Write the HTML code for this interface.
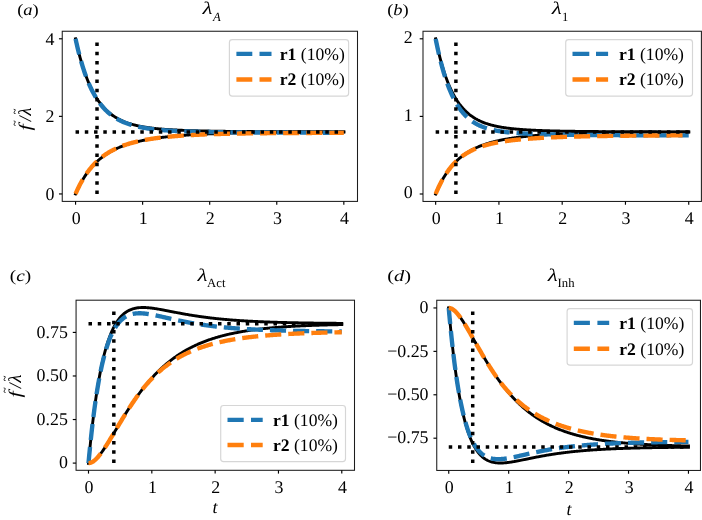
<!DOCTYPE html>
<html><head><meta charset="utf-8"><title>fig</title>
<style>html,body{margin:0;padding:0;background:#fff;}body{width:702px;height:520px;position:relative;overflow:hidden;font-family:"Liberation Serif",serif;}</style>
</head><body>
<svg width="702" height="520" viewBox="0 0 702 520" style="position:absolute;left:0;top:0;will-change:transform;text-rendering:geometricPrecision;font-family:'Liberation Serif',serif;font-size:17.9px">
<rect x="0" y="0" width="702" height="520" fill="#fff"/>
<clipPath id="cpa"><rect x="62.25" y="31.25" width="295.25" height="170.15"/></clipPath>
<g clip-path="url(#cpa)" fill="none">
<path d="M75.55,38.79 L76.22,41.84 L76.89,44.78 L77.56,47.63 L78.23,50.37 L78.90,53.03 L79.57,55.59 L80.24,58.06 L80.92,60.45 L81.59,62.76 L82.26,64.98 L82.93,67.14 L83.60,69.21 L84.27,71.22 L84.94,73.16 L85.61,75.04 L86.28,76.85 L86.95,78.59 L87.62,80.28 L88.29,81.92 L88.96,83.49 L89.63,85.02 L90.31,86.49 L90.98,87.91 L91.65,89.28 L92.32,90.61 L92.99,91.90 L93.66,93.14 L94.33,94.34 L95.00,95.49 L95.67,96.61 L96.34,97.70 L97.01,98.74 L97.68,99.75 L98.35,100.73 L99.02,101.68 L99.70,102.59 L100.37,103.48 L101.04,104.33 L101.71,105.16 L102.38,105.96 L103.05,106.73 L103.72,107.48 L104.39,108.20 L105.06,108.90 L105.73,109.57 L106.40,110.23 L107.07,110.86 L107.74,111.47 L108.41,112.06 L109.08,112.64 L109.76,113.19 L110.43,113.73 L111.10,114.25 L111.77,114.75 L112.44,115.24 L113.11,115.71 L113.78,116.16 L114.45,116.60 L115.12,117.03 L115.79,117.44 L116.46,117.84 L117.13,118.23 L117.80,118.61 L118.47,118.97 L119.15,119.32 L119.82,119.66 L120.49,119.99 L121.16,120.32 L121.83,120.63 L122.50,120.93 L123.17,121.22 L123.84,121.50 L124.51,121.77 L125.18,122.04 L125.85,122.29 L126.52,122.54 L127.19,122.79 L127.86,123.02 L128.54,123.25 L129.21,123.47 L129.88,123.68 L130.55,123.89 L131.22,124.09 L131.89,124.28 L132.56,124.47 L133.23,124.66 L133.90,124.83 L134.57,125.01 L135.24,125.18 L135.91,125.34 L136.58,125.50 L137.25,125.65 L137.93,125.80 L138.60,125.94 L139.27,126.08 L139.94,126.22 L140.61,126.35 L141.28,126.48 L141.95,126.61 L142.62,126.73 L143.29,126.85 L143.96,126.96 L144.63,127.07 L145.30,127.18 L145.97,127.29 L146.64,127.39 L147.31,127.49 L147.99,127.59 L148.66,127.68 L149.33,127.78 L150.00,127.87 L150.67,127.95 L151.34,128.04 L152.01,128.12 L152.68,128.20 L153.35,128.28 L154.02,128.35 L154.69,128.43 L155.36,128.50 L156.03,128.57 L156.70,128.64 L157.38,128.71 L158.05,128.77 L158.72,128.83 L159.39,128.90 L160.06,128.96 L160.73,129.02 L161.40,129.07 L162.07,129.13 L162.74,129.18 L163.41,129.24 L164.08,129.29 L164.75,129.34 L165.42,129.39 L166.09,129.44 L166.77,129.48 L167.44,129.53 L168.11,129.57 L168.78,129.62 L169.45,129.66 L170.12,129.70 L170.79,129.74 L171.46,129.78 L172.13,129.82 L172.80,129.86 L173.47,129.90 L174.14,129.93 L174.81,129.97 L175.48,130.00 L176.15,130.04 L176.83,130.07 L177.50,130.10 L178.17,130.13 L178.84,130.17 L179.51,130.20 L180.18,130.23 L180.85,130.25 L181.52,130.28 L182.19,130.31 L182.86,130.34 L183.53,130.37 L184.20,130.39 L184.87,130.42 L185.54,130.44 L186.22,130.47 L186.89,130.49 L187.56,130.51 L188.23,130.54 L188.90,130.56 L189.57,130.58 L190.24,130.60 L190.91,130.62 L191.58,130.65 L192.25,130.67 L192.92,130.69 L193.59,130.71 L194.26,130.72 L194.93,130.74 L195.61,130.76 L196.28,130.78 L196.95,130.80 L197.62,130.82 L198.29,130.83 L198.96,130.85 L199.63,130.87 L200.30,130.88 L200.97,130.90 L201.64,130.91 L202.31,130.93 L202.98,130.94 L203.65,130.96 L204.32,130.97 L205.00,130.99 L205.67,131.00 L206.34,131.02 L207.01,131.03 L207.68,131.04 L208.35,131.05 L209.02,131.07 L209.69,131.08 L210.36,131.09 L211.03,131.10 L211.70,131.12 L212.37,131.13 L213.04,131.14 L213.71,131.15 L214.38,131.16 L215.06,131.17 L215.73,131.18 L216.40,131.19 L217.07,131.20 L217.74,131.22 L218.41,131.23 L219.08,131.23 L219.75,131.24 L220.42,131.25 L221.09,131.26 L221.76,131.27 L222.43,131.28 L223.10,131.29 L223.77,131.30 L224.45,131.31 L225.12,131.32 L225.79,131.33 L226.46,131.33 L227.13,131.34 L227.80,131.35 L228.47,131.36 L229.14,131.36 L229.81,131.37 L230.48,131.38 L231.15,131.39 L231.82,131.39 L232.49,131.40 L233.16,131.41 L233.84,131.42 L234.51,131.42 L235.18,131.43 L235.85,131.44 L236.52,131.44 L237.19,131.45 L237.86,131.45 L238.53,131.46 L239.20,131.47 L239.87,131.47 L240.54,131.48 L241.21,131.49 L241.88,131.49 L242.55,131.50 L243.22,131.50 L243.90,131.51 L244.57,131.51 L245.24,131.52 L245.91,131.52 L246.58,131.53 L247.25,131.53 L247.92,131.54 L248.59,131.54 L249.26,131.55 L249.93,131.55 L250.60,131.56 L251.27,131.56 L251.94,131.57 L252.61,131.57 L253.29,131.58 L253.96,131.58 L254.63,131.58 L255.30,131.59 L255.97,131.59 L256.64,131.60 L257.31,131.60 L257.98,131.61 L258.65,131.61 L259.32,131.61 L259.99,131.62 L260.66,131.62 L261.33,131.62 L262.00,131.63 L262.68,131.63 L263.35,131.64 L264.02,131.64 L264.69,131.64 L265.36,131.65 L266.03,131.65 L266.70,131.65 L267.37,131.66 L268.04,131.66 L268.71,131.66 L269.38,131.67 L270.05,131.67 L270.72,131.67 L271.39,131.67 L272.07,131.68 L272.74,131.68 L273.41,131.68 L274.08,131.69 L274.75,131.69 L275.42,131.69 L276.09,131.69 L276.76,131.70 L277.43,131.70 L278.10,131.70 L278.77,131.70 L279.44,131.71 L280.11,131.71 L280.78,131.71 L281.45,131.71 L282.13,131.72 L282.80,131.72 L283.47,131.72 L284.14,131.72 L284.81,131.73 L285.48,131.73 L286.15,131.73 L286.82,131.73 L287.49,131.73 L288.16,131.74 L288.83,131.74 L289.50,131.74 L290.17,131.74 L290.84,131.74 L291.52,131.75 L292.19,131.75 L292.86,131.75 L293.53,131.75 L294.20,131.75 L294.87,131.76 L295.54,131.76 L296.21,131.76 L296.88,131.76 L297.55,131.76 L298.22,131.76 L298.89,131.77 L299.56,131.77 L300.23,131.77 L300.91,131.77 L301.58,131.77 L302.25,131.77 L302.92,131.78 L303.59,131.78 L304.26,131.78 L304.93,131.78 L305.60,131.78 L306.27,131.78 L306.94,131.78 L307.61,131.79 L308.28,131.79 L308.95,131.79 L309.62,131.79 L310.29,131.79 L310.97,131.79 L311.64,131.79 L312.31,131.80 L312.98,131.80 L313.65,131.80 L314.32,131.80 L314.99,131.80 L315.66,131.80 L316.33,131.80 L317.00,131.80 L317.67,131.81 L318.34,131.81 L319.01,131.81 L319.68,131.81 L320.36,131.81 L321.03,131.81 L321.70,131.81 L322.37,131.81 L323.04,131.81 L323.71,131.81 L324.38,131.82 L325.05,131.82 L325.72,131.82 L326.39,131.82 L327.06,131.82 L327.73,131.82 L328.40,131.82 L329.07,131.82 L329.75,131.82 L330.42,131.82 L331.09,131.82 L331.76,131.83 L332.43,131.83 L333.10,131.83 L333.77,131.83 L334.44,131.83 L335.11,131.83 L335.78,131.83 L336.45,131.83 L337.12,131.83 L337.79,131.83 L338.46,131.83 L339.14,131.83 L339.81,131.83 L340.48,131.84 L341.15,131.84 L341.82,131.84 L342.49,131.84 L343.16,131.84 L343.83,131.84" stroke="#000" stroke-width="2.9" stroke-linecap="square" stroke-linejoin="round"/>
<path d="M75.55,193.95 L76.22,192.42 L76.89,190.94 L77.56,189.50 L78.23,188.10 L78.90,186.74 L79.57,185.43 L80.24,184.15 L80.92,182.90 L81.59,181.70 L82.26,180.52 L82.93,179.39 L83.60,178.28 L84.27,177.20 L84.94,176.16 L85.61,175.14 L86.28,174.16 L86.95,173.20 L87.62,172.26 L88.29,171.36 L88.96,170.47 L89.63,169.62 L90.31,168.78 L90.98,167.97 L91.65,167.18 L92.32,166.41 L92.99,165.66 L93.66,164.94 L94.33,164.23 L95.00,163.54 L95.67,162.87 L96.34,162.21 L97.01,161.58 L97.68,160.96 L98.35,160.35 L99.02,159.76 L99.70,159.19 L100.37,158.63 L101.04,158.09 L101.71,157.56 L102.38,157.04 L103.05,156.54 L103.72,156.04 L104.39,155.56 L105.06,155.10 L105.73,154.64 L106.40,154.19 L107.07,153.76 L107.74,153.34 L108.41,152.92 L109.08,152.52 L109.76,152.12 L110.43,151.74 L111.10,151.36 L111.77,151.00 L112.44,150.64 L113.11,150.29 L113.78,149.95 L114.45,149.61 L115.12,149.29 L115.79,148.97 L116.46,148.66 L117.13,148.35 L117.80,148.05 L118.47,147.76 L119.15,147.48 L119.82,147.20 L120.49,146.93 L121.16,146.66 L121.83,146.40 L122.50,146.15 L123.17,145.90 L123.84,145.65 L124.51,145.41 L125.18,145.18 L125.85,144.95 L126.52,144.73 L127.19,144.51 L127.86,144.29 L128.54,144.08 L129.21,143.88 L129.88,143.67 L130.55,143.48 L131.22,143.28 L131.89,143.09 L132.56,142.91 L133.23,142.72 L133.90,142.54 L134.57,142.37 L135.24,142.20 L135.91,142.03 L136.58,141.86 L137.25,141.70 L137.93,141.54 L138.60,141.39 L139.27,141.23 L139.94,141.08 L140.61,140.94 L141.28,140.79 L141.95,140.65 L142.62,140.51 L143.29,140.37 L143.96,140.24 L144.63,140.11 L145.30,139.98 L145.97,139.85 L146.64,139.73 L147.31,139.61 L147.99,139.49 L148.66,139.37 L149.33,139.25 L150.00,139.14 L150.67,139.03 L151.34,138.92 L152.01,138.81 L152.68,138.70 L153.35,138.60 L154.02,138.50 L154.69,138.40 L155.36,138.30 L156.03,138.20 L156.70,138.10 L157.38,138.01 L158.05,137.92 L158.72,137.83 L159.39,137.74 L160.06,137.65 L160.73,137.56 L161.40,137.48 L162.07,137.40 L162.74,137.31 L163.41,137.23 L164.08,137.15 L164.75,137.08 L165.42,137.00 L166.09,136.92 L166.77,136.85 L167.44,136.78 L168.11,136.70 L168.78,136.63 L169.45,136.56 L170.12,136.50 L170.79,136.43 L171.46,136.36 L172.13,136.30 L172.80,136.23 L173.47,136.17 L174.14,136.11 L174.81,136.05 L175.48,135.99 L176.15,135.93 L176.83,135.87 L177.50,135.81 L178.17,135.75 L178.84,135.70 L179.51,135.64 L180.18,135.59 L180.85,135.54 L181.52,135.48 L182.19,135.43 L182.86,135.38 L183.53,135.33 L184.20,135.28 L184.87,135.23 L185.54,135.19 L186.22,135.14 L186.89,135.09 L187.56,135.05 L188.23,135.00 L188.90,134.96 L189.57,134.91 L190.24,134.87 L190.91,134.83 L191.58,134.79 L192.25,134.75 L192.92,134.70 L193.59,134.66 L194.26,134.63 L194.93,134.59 L195.61,134.55 L196.28,134.51 L196.95,134.47 L197.62,134.44 L198.29,134.40 L198.96,134.37 L199.63,134.33 L200.30,134.30 L200.97,134.26 L201.64,134.23 L202.31,134.20 L202.98,134.16 L203.65,134.13 L204.32,134.10 L205.00,134.07 L205.67,134.04 L206.34,134.01 L207.01,133.98 L207.68,133.95 L208.35,133.92 L209.02,133.89 L209.69,133.86 L210.36,133.84 L211.03,133.81 L211.70,133.78 L212.37,133.76 L213.04,133.73 L213.71,133.70 L214.38,133.68 L215.06,133.65 L215.73,133.63 L216.40,133.61 L217.07,133.58 L217.74,133.56 L218.41,133.53 L219.08,133.51 L219.75,133.49 L220.42,133.47 L221.09,133.44 L221.76,133.42 L222.43,133.40 L223.10,133.38 L223.77,133.36 L224.45,133.34 L225.12,133.32 L225.79,133.30 L226.46,133.28 L227.13,133.26 L227.80,133.24 L228.47,133.22 L229.14,133.20 L229.81,133.19 L230.48,133.17 L231.15,133.15 L231.82,133.13 L232.49,133.12 L233.16,133.10 L233.84,133.08 L234.51,133.06 L235.18,133.05 L235.85,133.03 L236.52,133.02 L237.19,133.00 L237.86,132.99 L238.53,132.97 L239.20,132.96 L239.87,132.94 L240.54,132.93 L241.21,132.91 L241.88,132.90 L242.55,132.88 L243.22,132.87 L243.90,132.86 L244.57,132.84 L245.24,132.83 L245.91,132.82 L246.58,132.80 L247.25,132.79 L247.92,132.78 L248.59,132.77 L249.26,132.75 L249.93,132.74 L250.60,132.73 L251.27,132.72 L251.94,132.71 L252.61,132.70 L253.29,132.68 L253.96,132.67 L254.63,132.66 L255.30,132.65 L255.97,132.64 L256.64,132.63 L257.31,132.62 L257.98,132.61 L258.65,132.60 L259.32,132.59 L259.99,132.58 L260.66,132.57 L261.33,132.56 L262.00,132.55 L262.68,132.54 L263.35,132.53 L264.02,132.53 L264.69,132.52 L265.36,132.51 L266.03,132.50 L266.70,132.49 L267.37,132.48 L268.04,132.47 L268.71,132.47 L269.38,132.46 L270.05,132.45 L270.72,132.44 L271.39,132.44 L272.07,132.43 L272.74,132.42 L273.41,132.41 L274.08,132.41 L274.75,132.40 L275.42,132.39 L276.09,132.38 L276.76,132.38 L277.43,132.37 L278.10,132.36 L278.77,132.36 L279.44,132.35 L280.11,132.34 L280.78,132.34 L281.45,132.33 L282.13,132.33 L282.80,132.32 L283.47,132.31 L284.14,132.31 L284.81,132.30 L285.48,132.30 L286.15,132.29 L286.82,132.29 L287.49,132.28 L288.16,132.27 L288.83,132.27 L289.50,132.26 L290.17,132.26 L290.84,132.25 L291.52,132.25 L292.19,132.24 L292.86,132.24 L293.53,132.23 L294.20,132.23 L294.87,132.22 L295.54,132.22 L296.21,132.22 L296.88,132.21 L297.55,132.21 L298.22,132.20 L298.89,132.20 L299.56,132.19 L300.23,132.19 L300.91,132.18 L301.58,132.18 L302.25,132.18 L302.92,132.17 L303.59,132.17 L304.26,132.16 L304.93,132.16 L305.60,132.16 L306.27,132.15 L306.94,132.15 L307.61,132.15 L308.28,132.14 L308.95,132.14 L309.62,132.14 L310.29,132.13 L310.97,132.13 L311.64,132.13 L312.31,132.12 L312.98,132.12 L313.65,132.12 L314.32,132.11 L314.99,132.11 L315.66,132.11 L316.33,132.10 L317.00,132.10 L317.67,132.10 L318.34,132.09 L319.01,132.09 L319.68,132.09 L320.36,132.09 L321.03,132.08 L321.70,132.08 L322.37,132.08 L323.04,132.08 L323.71,132.07 L324.38,132.07 L325.05,132.07 L325.72,132.07 L326.39,132.06 L327.06,132.06 L327.73,132.06 L328.40,132.06 L329.07,132.05 L329.75,132.05 L330.42,132.05 L331.09,132.05 L331.76,132.04 L332.43,132.04 L333.10,132.04 L333.77,132.04 L334.44,132.04 L335.11,132.03 L335.78,132.03 L336.45,132.03 L337.12,132.03 L337.79,132.03 L338.46,132.02 L339.14,132.02 L339.81,132.02 L340.48,132.02 L341.15,132.02 L341.82,132.01 L342.49,132.01 L343.16,132.01 L343.83,132.01" stroke="#000" stroke-width="2.9" stroke-linecap="square" stroke-linejoin="round"/>
<path d="M75.55,38.79 L76.22,41.86 L76.89,44.83 L77.56,47.69 L78.23,50.46 L78.90,53.13 L79.57,55.71 L80.24,58.21 L80.92,60.61 L81.59,62.94 L82.26,65.18 L82.93,67.35 L83.60,69.45 L84.27,71.47 L84.94,73.43 L85.61,75.31 L86.28,77.14 L86.95,78.90 L87.62,80.60 L88.29,82.25 L88.96,83.84 L89.63,85.38 L90.31,86.86 L90.98,88.29 L91.65,89.68 L92.32,91.02 L92.99,92.31 L93.66,93.57 L94.33,94.78 L95.00,95.94 L95.67,97.07 L96.34,98.17 L97.01,99.22 L97.68,100.24 L98.35,101.23 L99.02,102.19 L99.70,103.11 L100.37,104.00 L101.04,104.86 L101.71,105.70 L102.38,106.51 L103.05,107.29 L103.72,108.04 L104.39,108.77 L105.06,109.48 L105.73,110.16 L106.40,110.82 L107.07,111.46 L107.74,112.08 L108.41,112.68 L109.08,113.26 L109.76,113.82 L110.43,114.37 L111.10,114.89 L111.77,115.40 L112.44,115.90 L113.11,116.37 L113.78,116.83 L114.45,117.28 L115.12,117.72 L115.79,118.13 L116.46,118.54 L117.13,118.93 L117.80,119.32 L118.47,119.69 L119.15,120.04 L119.82,120.39 L120.49,120.73 L121.16,121.05 L121.83,121.37 L122.50,121.67 L123.17,121.97 L123.84,122.26 L124.51,122.54 L125.18,122.81 L125.85,123.07 L126.52,123.32 L127.19,123.57 L127.86,123.81 L128.54,124.04 L129.21,124.26 L129.88,124.48 L130.55,124.69 L131.22,124.90 L131.89,125.10 L132.56,125.29 L133.23,125.48 L133.90,125.66 L134.57,125.84 L135.24,126.01 L135.91,126.18 L136.58,126.34 L137.25,126.50 L137.93,126.65 L138.60,126.80 L139.27,126.95 L139.94,127.09 L140.61,127.22 L141.28,127.35 L141.95,127.48 L142.62,127.61 L143.29,127.73 L143.96,127.85 L144.63,127.96 L145.30,128.08 L145.97,128.18 L146.64,128.29 L147.31,128.39 L147.99,128.49 L148.66,128.59 L149.33,128.69 L150.00,128.78 L150.67,128.87 L151.34,128.95 L152.01,129.04 L152.68,129.12 L153.35,129.20 L154.02,129.28 L154.69,129.36 L155.36,129.43 L156.03,129.51 L156.70,129.58 L157.38,129.64 L158.05,129.71 L158.72,129.78 L159.39,129.84 L160.06,129.90 L160.73,129.96 L161.40,130.02 L162.07,130.08 L162.74,130.14 L163.41,130.19 L164.08,130.24 L164.75,130.30 L165.42,130.35 L166.09,130.40 L166.77,130.44 L167.44,130.49 L168.11,130.54 L168.78,130.58 L169.45,130.63 L170.12,130.67 L170.79,130.71 L171.46,130.75 L172.13,130.79 L172.80,130.83 L173.47,130.87 L174.14,130.90 L174.81,130.94 L175.48,130.97 L176.15,131.01 L176.83,131.04 L177.50,131.08 L178.17,131.11 L178.84,131.14 L179.51,131.17 L180.18,131.20 L180.85,131.23 L181.52,131.26 L182.19,131.29 L182.86,131.31 L183.53,131.34 L184.20,131.37 L184.87,131.39 L185.54,131.42 L186.22,131.44 L186.89,131.47 L187.56,131.49 L188.23,131.51 L188.90,131.53 L189.57,131.56 L190.24,131.58 L190.91,131.60 L191.58,131.62 L192.25,131.64 L192.92,131.66 L193.59,131.68 L194.26,131.70 L194.93,131.72 L195.61,131.73 L196.28,131.75 L196.95,131.77 L197.62,131.79 L198.29,131.80 L198.96,131.82 L199.63,131.84 L200.30,131.85 L200.97,131.87 L201.64,131.88 L202.31,131.90 L202.98,131.91 L203.65,131.93 L204.32,131.94 L205.00,131.95 L205.67,131.97 L206.34,131.98 L207.01,131.99 L207.68,132.00 L208.35,132.02 L209.02,132.03 L209.69,132.04 L210.36,132.05 L211.03,132.06 L211.70,132.08 L212.37,132.09 L213.04,132.10 L213.71,132.11 L214.38,132.12 L215.06,132.13 L215.73,132.14 L216.40,132.15 L217.07,132.16 L217.74,132.17 L218.41,132.18 L219.08,132.19 L219.75,132.20 L220.42,132.20 L221.09,132.21 L221.76,132.22 L222.43,132.23 L223.10,132.24 L223.77,132.25 L224.45,132.25 L225.12,132.26 L225.79,132.27 L226.46,132.28 L227.13,132.29 L227.80,132.29 L228.47,132.30 L229.14,132.31 L229.81,132.31 L230.48,132.32 L231.15,132.33 L231.82,132.33 L232.49,132.34 L233.16,132.35 L233.84,132.35 L234.51,132.36 L235.18,132.37 L235.85,132.37 L236.52,132.38 L237.19,132.38 L237.86,132.39 L238.53,132.39 L239.20,132.40 L239.87,132.41 L240.54,132.41 L241.21,132.42 L241.88,132.42 L242.55,132.43 L243.22,132.43 L243.90,132.44 L244.57,132.44 L245.24,132.45 L245.91,132.45 L246.58,132.46 L247.25,132.46 L247.92,132.46 L248.59,132.47 L249.26,132.47 L249.93,132.48 L250.60,132.48 L251.27,132.49 L251.94,132.49 L252.61,132.49 L253.29,132.50 L253.96,132.50 L254.63,132.51 L255.30,132.51 L255.97,132.51 L256.64,132.52 L257.31,132.52 L257.98,132.52 L258.65,132.53 L259.32,132.53 L259.99,132.53 L260.66,132.54 L261.33,132.54 L262.00,132.54 L262.68,132.55 L263.35,132.55 L264.02,132.55 L264.69,132.56 L265.36,132.56 L266.03,132.56 L266.70,132.57 L267.37,132.57 L268.04,132.57 L268.71,132.58 L269.38,132.58 L270.05,132.58 L270.72,132.58 L271.39,132.59 L272.07,132.59 L272.74,132.59 L273.41,132.59 L274.08,132.60 L274.75,132.60 L275.42,132.60 L276.09,132.60 L276.76,132.61 L277.43,132.61 L278.10,132.61 L278.77,132.61 L279.44,132.62 L280.11,132.62 L280.78,132.62 L281.45,132.62 L282.13,132.62 L282.80,132.63 L283.47,132.63 L284.14,132.63 L284.81,132.63 L285.48,132.63 L286.15,132.64 L286.82,132.64 L287.49,132.64 L288.16,132.64 L288.83,132.64 L289.50,132.65 L290.17,132.65 L290.84,132.65 L291.52,132.65 L292.19,132.65 L292.86,132.65 L293.53,132.66 L294.20,132.66 L294.87,132.66 L295.54,132.66 L296.21,132.66 L296.88,132.66 L297.55,132.67 L298.22,132.67 L298.89,132.67 L299.56,132.67 L300.23,132.67 L300.91,132.67 L301.58,132.67 L302.25,132.68 L302.92,132.68 L303.59,132.68 L304.26,132.68 L304.93,132.68 L305.60,132.68 L306.27,132.68 L306.94,132.69 L307.61,132.69 L308.28,132.69 L308.95,132.69 L309.62,132.69 L310.29,132.69 L310.97,132.69 L311.64,132.69 L312.31,132.69 L312.98,132.70 L313.65,132.70 L314.32,132.70 L314.99,132.70 L315.66,132.70 L316.33,132.70 L317.00,132.70 L317.67,132.70 L318.34,132.70 L319.01,132.71 L319.68,132.71 L320.36,132.71 L321.03,132.71 L321.70,132.71 L322.37,132.71 L323.04,132.71 L323.71,132.71 L324.38,132.71 L325.05,132.71 L325.72,132.71 L326.39,132.72 L327.06,132.72 L327.73,132.72 L328.40,132.72 L329.07,132.72 L329.75,132.72 L330.42,132.72 L331.09,132.72 L331.76,132.72 L332.43,132.72 L333.10,132.72 L333.77,132.72 L334.44,132.72 L335.11,132.73 L335.78,132.73 L336.45,132.73 L337.12,132.73 L337.79,132.73 L338.46,132.73 L339.14,132.73 L339.81,132.73 L340.48,132.73 L341.15,132.73 L341.82,132.73 L342.49,132.73 L343.16,132.73 L343.83,132.73" stroke="#1f77b4" stroke-width="4.36" stroke-linejoin="round" stroke-dasharray="16.13,6.98"/>
<path d="M75.55,193.95 L76.22,192.41 L76.89,190.91 L77.56,189.46 L78.23,188.05 L78.90,186.68 L79.57,185.35 L80.24,184.06 L80.92,182.81 L81.59,181.59 L82.26,180.41 L82.93,179.26 L83.60,178.14 L84.27,177.06 L84.94,176.01 L85.61,174.98 L86.28,173.99 L86.95,173.02 L87.62,172.08 L88.29,171.17 L88.96,170.28 L89.63,169.42 L90.31,168.58 L90.98,167.76 L91.65,166.96 L92.32,166.19 L92.99,165.44 L93.66,164.70 L94.33,163.99 L95.00,163.30 L95.67,162.62 L96.34,161.96 L97.01,161.32 L97.68,160.70 L98.35,160.09 L99.02,159.50 L99.70,158.93 L100.37,158.37 L101.04,157.82 L101.71,157.29 L102.38,156.77 L103.05,156.26 L103.72,155.77 L104.39,155.29 L105.06,154.82 L105.73,154.36 L106.40,153.92 L107.07,153.48 L107.74,153.06 L108.41,152.64 L109.08,152.24 L109.76,151.85 L110.43,151.46 L111.10,151.09 L111.77,150.72 L112.44,150.36 L113.11,150.02 L113.78,149.67 L114.45,149.34 L115.12,149.02 L115.79,148.70 L116.46,148.39 L117.13,148.09 L117.80,147.79 L118.47,147.50 L119.15,147.22 L119.82,146.94 L120.49,146.67 L121.16,146.41 L121.83,146.15 L122.50,145.90 L123.17,145.65 L123.84,145.41 L124.51,145.18 L125.18,144.94 L125.85,144.72 L126.52,144.50 L127.19,144.28 L127.86,144.07 L128.54,143.86 L129.21,143.66 L129.88,143.46 L130.55,143.27 L131.22,143.08 L131.89,142.89 L132.56,142.71 L133.23,142.53 L133.90,142.36 L134.57,142.19 L135.24,142.02 L135.91,141.85 L136.58,141.69 L137.25,141.54 L137.93,141.38 L138.60,141.23 L139.27,141.08 L139.94,140.94 L140.61,140.79 L141.28,140.65 L141.95,140.52 L142.62,140.38 L143.29,140.25 L143.96,140.12 L144.63,139.99 L145.30,139.87 L145.97,139.75 L146.64,139.63 L147.31,139.51 L147.99,139.40 L148.66,139.28 L149.33,139.17 L150.00,139.07 L150.67,138.96 L151.34,138.85 L152.01,138.75 L152.68,138.65 L153.35,138.55 L154.02,138.46 L154.69,138.36 L155.36,138.27 L156.03,138.18 L156.70,138.09 L157.38,138.00 L158.05,137.91 L158.72,137.83 L159.39,137.74 L160.06,137.66 L160.73,137.58 L161.40,137.50 L162.07,137.42 L162.74,137.35 L163.41,137.27 L164.08,137.20 L164.75,137.13 L165.42,137.05 L166.09,136.98 L166.77,136.92 L167.44,136.85 L168.11,136.78 L168.78,136.72 L169.45,136.65 L170.12,136.59 L170.79,136.53 L171.46,136.47 L172.13,136.41 L172.80,136.35 L173.47,136.29 L174.14,136.24 L174.81,136.18 L175.48,136.13 L176.15,136.07 L176.83,136.02 L177.50,135.97 L178.17,135.92 L178.84,135.87 L179.51,135.82 L180.18,135.77 L180.85,135.72 L181.52,135.67 L182.19,135.63 L182.86,135.58 L183.53,135.54 L184.20,135.49 L184.87,135.45 L185.54,135.41 L186.22,135.37 L186.89,135.33 L187.56,135.29 L188.23,135.25 L188.90,135.21 L189.57,135.17 L190.24,135.13 L190.91,135.09 L191.58,135.06 L192.25,135.02 L192.92,134.99 L193.59,134.95 L194.26,134.92 L194.93,134.88 L195.61,134.85 L196.28,134.82 L196.95,134.79 L197.62,134.76 L198.29,134.73 L198.96,134.70 L199.63,134.67 L200.30,134.64 L200.97,134.61 L201.64,134.58 L202.31,134.55 L202.98,134.52 L203.65,134.50 L204.32,134.47 L205.00,134.44 L205.67,134.42 L206.34,134.39 L207.01,134.37 L207.68,134.34 L208.35,134.32 L209.02,134.30 L209.69,134.27 L210.36,134.25 L211.03,134.23 L211.70,134.20 L212.37,134.18 L213.04,134.16 L213.71,134.14 L214.38,134.12 L215.06,134.10 L215.73,134.08 L216.40,134.06 L217.07,134.04 L217.74,134.02 L218.41,134.00 L219.08,133.98 L219.75,133.96 L220.42,133.95 L221.09,133.93 L221.76,133.91 L222.43,133.89 L223.10,133.88 L223.77,133.86 L224.45,133.84 L225.12,133.83 L225.79,133.81 L226.46,133.80 L227.13,133.78 L227.80,133.77 L228.47,133.75 L229.14,133.74 L229.81,133.72 L230.48,133.71 L231.15,133.70 L231.82,133.68 L232.49,133.67 L233.16,133.66 L233.84,133.64 L234.51,133.63 L235.18,133.62 L235.85,133.60 L236.52,133.59 L237.19,133.58 L237.86,133.57 L238.53,133.56 L239.20,133.54 L239.87,133.53 L240.54,133.52 L241.21,133.51 L241.88,133.50 L242.55,133.49 L243.22,133.48 L243.90,133.47 L244.57,133.46 L245.24,133.45 L245.91,133.44 L246.58,133.43 L247.25,133.42 L247.92,133.41 L248.59,133.40 L249.26,133.39 L249.93,133.38 L250.60,133.37 L251.27,133.37 L251.94,133.36 L252.61,133.35 L253.29,133.34 L253.96,133.33 L254.63,133.33 L255.30,133.32 L255.97,133.31 L256.64,133.30 L257.31,133.29 L257.98,133.29 L258.65,133.28 L259.32,133.27 L259.99,133.27 L260.66,133.26 L261.33,133.25 L262.00,133.24 L262.68,133.24 L263.35,133.23 L264.02,133.23 L264.69,133.22 L265.36,133.21 L266.03,133.21 L266.70,133.20 L267.37,133.19 L268.04,133.19 L268.71,133.18 L269.38,133.18 L270.05,133.17 L270.72,133.17 L271.39,133.16 L272.07,133.16 L272.74,133.15 L273.41,133.14 L274.08,133.14 L274.75,133.13 L275.42,133.13 L276.09,133.12 L276.76,133.12 L277.43,133.12 L278.10,133.11 L278.77,133.11 L279.44,133.10 L280.11,133.10 L280.78,133.09 L281.45,133.09 L282.13,133.08 L282.80,133.08 L283.47,133.08 L284.14,133.07 L284.81,133.07 L285.48,133.06 L286.15,133.06 L286.82,133.06 L287.49,133.05 L288.16,133.05 L288.83,133.04 L289.50,133.04 L290.17,133.04 L290.84,133.03 L291.52,133.03 L292.19,133.03 L292.86,133.02 L293.53,133.02 L294.20,133.02 L294.87,133.01 L295.54,133.01 L296.21,133.01 L296.88,133.00 L297.55,133.00 L298.22,133.00 L298.89,133.00 L299.56,132.99 L300.23,132.99 L300.91,132.99 L301.58,132.98 L302.25,132.98 L302.92,132.98 L303.59,132.98 L304.26,132.97 L304.93,132.97 L305.60,132.97 L306.27,132.97 L306.94,132.96 L307.61,132.96 L308.28,132.96 L308.95,132.96 L309.62,132.95 L310.29,132.95 L310.97,132.95 L311.64,132.95 L312.31,132.94 L312.98,132.94 L313.65,132.94 L314.32,132.94 L314.99,132.94 L315.66,132.93 L316.33,132.93 L317.00,132.93 L317.67,132.93 L318.34,132.93 L319.01,132.92 L319.68,132.92 L320.36,132.92 L321.03,132.92 L321.70,132.92 L322.37,132.91 L323.04,132.91 L323.71,132.91 L324.38,132.91 L325.05,132.91 L325.72,132.91 L326.39,132.90 L327.06,132.90 L327.73,132.90 L328.40,132.90 L329.07,132.90 L329.75,132.90 L330.42,132.89 L331.09,132.89 L331.76,132.89 L332.43,132.89 L333.10,132.89 L333.77,132.89 L334.44,132.89 L335.11,132.88 L335.78,132.88 L336.45,132.88 L337.12,132.88 L337.79,132.88 L338.46,132.88 L339.14,132.88 L339.81,132.87 L340.48,132.87 L341.15,132.87 L341.82,132.87 L342.49,132.87 L343.16,132.87 L343.83,132.87" stroke="#ff7f0e" stroke-width="4.36" stroke-linejoin="round" stroke-dasharray="16.13,6.98"/>
<path d="M75.55,131.89 L343.83,131.89" stroke="#000" stroke-width="3.49" stroke-dasharray="3.49,5.76"/>
<path d="M97.01,193.95 L97.01,38.79" stroke="#000" stroke-width="3.49" stroke-dasharray="3.49,5.76"/>
</g>
<rect x="62.25" y="31.25" width="295.25" height="170.15" fill="none" stroke="#1c1c1c" stroke-width="1.05"/>
<path d="M75.55,201.4 v3.3" stroke="#000" stroke-width="1.16"/>
<text x="76.15" y="223.70" text-anchor="middle">0</text>
<path d="M142.62,201.4 v3.3" stroke="#000" stroke-width="1.16"/>
<text x="143.22" y="223.70" text-anchor="middle">1</text>
<path d="M209.69,201.4 v3.3" stroke="#000" stroke-width="1.16"/>
<text x="210.29" y="223.70" text-anchor="middle">2</text>
<path d="M276.76,201.4 v3.3" stroke="#000" stroke-width="1.16"/>
<text x="277.36" y="223.70" text-anchor="middle">3</text>
<path d="M343.83,201.4 v3.3" stroke="#000" stroke-width="1.16"/>
<text x="344.43" y="223.70" text-anchor="middle">4</text>
<path d="M62.25,193.95 h-3.3" stroke="#000" stroke-width="1.16"/>
<text x="54.45" y="199.95" text-anchor="end">0</text>
<path d="M62.25,116.37 h-3.3" stroke="#000" stroke-width="1.16"/>
<text x="54.45" y="122.37" text-anchor="end">2</text>
<path d="M62.25,38.79 h-3.3" stroke="#000" stroke-width="1.16"/>
<text x="54.45" y="44.79" text-anchor="end">4</text>
<rect x="229.4" y="39.6" width="119.20000000000002" height="56.6" rx="2.9" ry="2.9" fill="#fff" fill-opacity="0.8" stroke="#ccc" stroke-opacity="0.8" stroke-width="1.16"/>
<path d="M236.4,53.9 H252.3 M259.5,53.9 H271.5" stroke="#1f77b4" stroke-width="4.36"/>
<text x="279.8" y="59.70" font-size="17.6"><tspan font-weight="bold">r1</tspan> (10%)</text>
<path d="M236.4,79.5 H252.3 M259.5,79.5 H271.5" stroke="#ff7f0e" stroke-width="4.36"/>
<text x="279.8" y="85.30" font-size="17.6"><tspan font-weight="bold">r2</tspan> (10%)</text>
<clipPath id="cpb"><rect x="423.0" y="31.25" width="278.4" height="170.2"/></clipPath>
<g clip-path="url(#cpb)" fill="none">
<path d="M435.65,38.80 L436.28,41.85 L436.92,44.80 L437.55,47.64 L438.18,50.39 L438.81,53.04 L439.45,55.60 L440.08,58.07 L440.71,60.46 L441.34,62.77 L441.98,65.00 L442.61,67.15 L443.24,69.23 L443.88,71.24 L444.51,73.18 L445.14,75.05 L445.77,76.87 L446.41,78.61 L447.04,80.30 L447.67,81.94 L448.30,83.51 L448.94,85.04 L449.57,86.51 L450.20,87.93 L450.83,89.31 L451.47,90.64 L452.10,91.92 L452.73,93.16 L453.37,94.36 L454.00,95.52 L454.63,96.64 L455.26,97.72 L455.90,98.77 L456.53,99.78 L457.16,100.76 L457.79,101.70 L458.43,102.62 L459.06,103.50 L459.69,104.36 L460.33,105.18 L460.96,105.98 L461.59,106.76 L462.22,107.50 L462.86,108.23 L463.49,108.93 L464.12,109.60 L464.75,110.26 L465.39,110.89 L466.02,111.50 L466.65,112.09 L467.28,112.67 L467.92,113.22 L468.55,113.76 L469.18,114.28 L469.82,114.78 L470.45,115.27 L471.08,115.74 L471.71,116.19 L472.35,116.63 L472.98,117.06 L473.61,117.47 L474.24,117.87 L474.88,118.26 L475.51,118.64 L476.14,119.00 L476.78,119.35 L477.41,119.70 L478.04,120.03 L478.67,120.35 L479.31,120.66 L479.94,120.96 L480.57,121.25 L481.20,121.53 L481.84,121.80 L482.47,122.07 L483.10,122.33 L483.74,122.58 L484.37,122.82 L485.00,123.05 L485.63,123.28 L486.27,123.50 L486.90,123.71 L487.53,123.92 L488.16,124.12 L488.80,124.32 L489.43,124.50 L490.06,124.69 L490.69,124.87 L491.33,125.04 L491.96,125.21 L492.59,125.37 L493.23,125.53 L493.86,125.68 L494.49,125.83 L495.12,125.98 L495.76,126.12 L496.39,126.25 L497.02,126.39 L497.65,126.52 L498.29,126.64 L498.92,126.76 L499.55,126.88 L500.19,127.00 L500.82,127.11 L501.45,127.22 L502.08,127.32 L502.72,127.42 L503.35,127.52 L503.98,127.62 L504.61,127.72 L505.25,127.81 L505.88,127.90 L506.51,127.99 L507.15,128.07 L507.78,128.15 L508.41,128.23 L509.04,128.31 L509.68,128.39 L510.31,128.46 L510.94,128.53 L511.57,128.60 L512.21,128.67 L512.84,128.74 L513.47,128.80 L514.10,128.87 L514.74,128.93 L515.37,128.99 L516.00,129.05 L516.64,129.11 L517.27,129.16 L517.90,129.22 L518.53,129.27 L519.17,129.32 L519.80,129.37 L520.43,129.42 L521.06,129.47 L521.70,129.52 L522.33,129.56 L522.96,129.61 L523.60,129.65 L524.23,129.69 L524.86,129.74 L525.49,129.78 L526.13,129.82 L526.76,129.86 L527.39,129.89 L528.02,129.93 L528.66,129.97 L529.29,130.00 L529.92,130.04 L530.55,130.07 L531.19,130.10 L531.82,130.14 L532.45,130.17 L533.09,130.20 L533.72,130.23 L534.35,130.26 L534.98,130.29 L535.62,130.32 L536.25,130.34 L536.88,130.37 L537.51,130.40 L538.15,130.42 L538.78,130.45 L539.41,130.48 L540.05,130.50 L540.68,130.52 L541.31,130.55 L541.94,130.57 L542.58,130.59 L543.21,130.62 L543.84,130.64 L544.47,130.66 L545.11,130.68 L545.74,130.70 L546.37,130.72 L547.01,130.74 L547.64,130.76 L548.27,130.78 L548.90,130.80 L549.54,130.81 L550.17,130.83 L550.80,130.85 L551.43,130.87 L552.07,130.88 L552.70,130.90 L553.33,130.92 L553.96,130.93 L554.60,130.95 L555.23,130.96 L555.86,130.98 L556.50,130.99 L557.13,131.01 L557.76,131.02 L558.39,131.04 L559.03,131.05 L559.66,131.06 L560.29,131.08 L560.92,131.09 L561.56,131.10 L562.19,131.11 L562.82,131.13 L563.46,131.14 L564.09,131.15 L564.72,131.16 L565.35,131.17 L565.99,131.18 L566.62,131.20 L567.25,131.21 L567.88,131.22 L568.52,131.23 L569.15,131.24 L569.78,131.25 L570.42,131.26 L571.05,131.27 L571.68,131.28 L572.31,131.29 L572.95,131.30 L573.58,131.31 L574.21,131.32 L574.84,131.32 L575.48,131.33 L576.11,131.34 L576.74,131.35 L577.37,131.36 L578.01,131.37 L578.64,131.38 L579.27,131.38 L579.91,131.39 L580.54,131.40 L581.17,131.41 L581.80,131.41 L582.44,131.42 L583.07,131.43 L583.70,131.44 L584.33,131.44 L584.97,131.45 L585.60,131.46 L586.23,131.46 L586.87,131.47 L587.50,131.48 L588.13,131.48 L588.76,131.49 L589.40,131.50 L590.03,131.50 L590.66,131.51 L591.29,131.51 L591.93,131.52 L592.56,131.52 L593.19,131.53 L593.83,131.54 L594.46,131.54 L595.09,131.55 L595.72,131.55 L596.36,131.56 L596.99,131.56 L597.62,131.57 L598.25,131.57 L598.89,131.58 L599.52,131.58 L600.15,131.59 L600.78,131.59 L601.42,131.60 L602.05,131.60 L602.68,131.61 L603.32,131.61 L603.95,131.61 L604.58,131.62 L605.21,131.62 L605.85,131.63 L606.48,131.63 L607.11,131.64 L607.74,131.64 L608.38,131.64 L609.01,131.65 L609.64,131.65 L610.28,131.65 L610.91,131.66 L611.54,131.66 L612.17,131.67 L612.81,131.67 L613.44,131.67 L614.07,131.68 L614.70,131.68 L615.34,131.68 L615.97,131.69 L616.60,131.69 L617.23,131.69 L617.87,131.70 L618.50,131.70 L619.13,131.70 L619.77,131.71 L620.40,131.71 L621.03,131.71 L621.66,131.71 L622.30,131.72 L622.93,131.72 L623.56,131.72 L624.19,131.73 L624.83,131.73 L625.46,131.73 L626.09,131.73 L626.73,131.74 L627.36,131.74 L627.99,131.74 L628.62,131.74 L629.26,131.75 L629.89,131.75 L630.52,131.75 L631.15,131.75 L631.79,131.76 L632.42,131.76 L633.05,131.76 L633.69,131.76 L634.32,131.76 L634.95,131.77 L635.58,131.77 L636.22,131.77 L636.85,131.77 L637.48,131.77 L638.11,131.78 L638.75,131.78 L639.38,131.78 L640.01,131.78 L640.64,131.78 L641.28,131.79 L641.91,131.79 L642.54,131.79 L643.18,131.79 L643.81,131.79 L644.44,131.80 L645.07,131.80 L645.71,131.80 L646.34,131.80 L646.97,131.80 L647.60,131.80 L648.24,131.81 L648.87,131.81 L649.50,131.81 L650.14,131.81 L650.77,131.81 L651.40,131.81 L652.03,131.81 L652.67,131.82 L653.30,131.82 L653.93,131.82 L654.56,131.82 L655.20,131.82 L655.83,131.82 L656.46,131.82 L657.10,131.83 L657.73,131.83 L658.36,131.83 L658.99,131.83 L659.63,131.83 L660.26,131.83 L660.89,131.83 L661.52,131.83 L662.16,131.84 L662.79,131.84 L663.42,131.84 L664.05,131.84 L664.69,131.84 L665.32,131.84 L665.95,131.84 L666.59,131.84 L667.22,131.84 L667.85,131.85 L668.48,131.85 L669.12,131.85 L669.75,131.85 L670.38,131.85 L671.01,131.85 L671.65,131.85 L672.28,131.85 L672.91,131.85 L673.55,131.85 L674.18,131.86 L674.81,131.86 L675.44,131.86 L676.08,131.86 L676.71,131.86 L677.34,131.86 L677.97,131.86 L678.61,131.86 L679.24,131.86 L679.87,131.86 L680.50,131.86 L681.14,131.86 L681.77,131.87 L682.40,131.87 L683.04,131.87 L683.67,131.87 L684.30,131.87 L684.93,131.87 L685.57,131.87 L686.20,131.87 L686.83,131.87 L687.46,131.87 L688.10,131.87 L688.73,131.87" stroke="#000" stroke-width="2.9" stroke-linecap="square" stroke-linejoin="round"/>
<path d="M435.65,194.00 L436.28,192.47 L436.92,190.99 L437.55,189.55 L438.18,188.15 L438.81,186.79 L439.45,185.47 L440.08,184.19 L440.71,182.95 L441.34,181.74 L441.98,180.57 L442.61,179.43 L443.24,178.32 L443.88,177.25 L444.51,176.20 L445.14,175.19 L445.77,174.20 L446.41,173.24 L447.04,172.31 L447.67,171.40 L448.30,170.52 L448.94,169.66 L449.57,168.83 L450.20,168.01 L450.83,167.22 L451.47,166.46 L452.10,165.71 L452.73,164.98 L453.37,164.27 L454.00,163.58 L454.63,162.91 L455.26,162.26 L455.90,161.62 L456.53,161.00 L457.16,160.39 L457.79,159.81 L458.43,159.23 L459.06,158.67 L459.69,158.13 L460.33,157.60 L460.96,157.08 L461.59,156.58 L462.22,156.08 L462.86,155.60 L463.49,155.14 L464.12,154.68 L464.75,154.23 L465.39,153.80 L466.02,153.38 L466.65,152.96 L467.28,152.56 L467.92,152.16 L468.55,151.78 L469.18,151.40 L469.82,151.04 L470.45,150.68 L471.08,150.33 L471.71,149.99 L472.35,149.65 L472.98,149.33 L473.61,149.01 L474.24,148.70 L474.88,148.39 L475.51,148.09 L476.14,147.80 L476.78,147.52 L477.41,147.24 L478.04,146.97 L478.67,146.70 L479.31,146.44 L479.94,146.18 L480.57,145.93 L481.20,145.69 L481.84,145.45 L482.47,145.22 L483.10,144.99 L483.74,144.76 L484.37,144.54 L485.00,144.33 L485.63,144.12 L486.27,143.91 L486.90,143.71 L487.53,143.51 L488.16,143.32 L488.80,143.13 L489.43,142.94 L490.06,142.76 L490.69,142.58 L491.33,142.41 L491.96,142.23 L492.59,142.06 L493.23,141.90 L493.86,141.74 L494.49,141.58 L495.12,141.42 L495.76,141.27 L496.39,141.12 L497.02,140.97 L497.65,140.83 L498.29,140.69 L498.92,140.55 L499.55,140.41 L500.19,140.28 L500.82,140.14 L501.45,140.02 L502.08,139.89 L502.72,139.76 L503.35,139.64 L503.98,139.52 L504.61,139.40 L505.25,139.29 L505.88,139.17 L506.51,139.06 L507.15,138.95 L507.78,138.84 L508.41,138.74 L509.04,138.63 L509.68,138.53 L510.31,138.43 L510.94,138.33 L511.57,138.24 L512.21,138.14 L512.84,138.05 L513.47,137.95 L514.10,137.86 L514.74,137.77 L515.37,137.69 L516.00,137.60 L516.64,137.52 L517.27,137.43 L517.90,137.35 L518.53,137.27 L519.17,137.19 L519.80,137.11 L520.43,137.03 L521.06,136.96 L521.70,136.89 L522.33,136.81 L522.96,136.74 L523.60,136.67 L524.23,136.60 L524.86,136.53 L525.49,136.46 L526.13,136.40 L526.76,136.33 L527.39,136.27 L528.02,136.20 L528.66,136.14 L529.29,136.08 L529.92,136.02 L530.55,135.96 L531.19,135.90 L531.82,135.85 L532.45,135.79 L533.09,135.73 L533.72,135.68 L534.35,135.62 L534.98,135.57 L535.62,135.52 L536.25,135.47 L536.88,135.42 L537.51,135.37 L538.15,135.32 L538.78,135.27 L539.41,135.22 L540.05,135.17 L540.68,135.13 L541.31,135.08 L541.94,135.04 L542.58,134.99 L543.21,134.95 L543.84,134.91 L544.47,134.86 L545.11,134.82 L545.74,134.78 L546.37,134.74 L547.01,134.70 L547.64,134.66 L548.27,134.62 L548.90,134.58 L549.54,134.55 L550.17,134.51 L550.80,134.47 L551.43,134.44 L552.07,134.40 L552.70,134.37 L553.33,134.33 L553.96,134.30 L554.60,134.26 L555.23,134.23 L555.86,134.20 L556.50,134.17 L557.13,134.14 L557.76,134.10 L558.39,134.07 L559.03,134.04 L559.66,134.01 L560.29,133.98 L560.92,133.96 L561.56,133.93 L562.19,133.90 L562.82,133.87 L563.46,133.84 L564.09,133.82 L564.72,133.79 L565.35,133.76 L565.99,133.74 L566.62,133.71 L567.25,133.69 L567.88,133.66 L568.52,133.64 L569.15,133.62 L569.78,133.59 L570.42,133.57 L571.05,133.55 L571.68,133.52 L572.31,133.50 L572.95,133.48 L573.58,133.46 L574.21,133.44 L574.84,133.42 L575.48,133.39 L576.11,133.37 L576.74,133.35 L577.37,133.33 L578.01,133.31 L578.64,133.29 L579.27,133.28 L579.91,133.26 L580.54,133.24 L581.17,133.22 L581.80,133.20 L582.44,133.18 L583.07,133.17 L583.70,133.15 L584.33,133.13 L584.97,133.12 L585.60,133.10 L586.23,133.08 L586.87,133.07 L587.50,133.05 L588.13,133.04 L588.76,133.02 L589.40,133.00 L590.03,132.99 L590.66,132.98 L591.29,132.96 L591.93,132.95 L592.56,132.93 L593.19,132.92 L593.83,132.90 L594.46,132.89 L595.09,132.88 L595.72,132.86 L596.36,132.85 L596.99,132.84 L597.62,132.83 L598.25,132.81 L598.89,132.80 L599.52,132.79 L600.15,132.78 L600.78,132.76 L601.42,132.75 L602.05,132.74 L602.68,132.73 L603.32,132.72 L603.95,132.71 L604.58,132.70 L605.21,132.69 L605.85,132.68 L606.48,132.67 L607.11,132.66 L607.74,132.65 L608.38,132.64 L609.01,132.63 L609.64,132.62 L610.28,132.61 L610.91,132.60 L611.54,132.59 L612.17,132.58 L612.81,132.57 L613.44,132.56 L614.07,132.55 L614.70,132.54 L615.34,132.53 L615.97,132.53 L616.60,132.52 L617.23,132.51 L617.87,132.50 L618.50,132.49 L619.13,132.48 L619.77,132.48 L620.40,132.47 L621.03,132.46 L621.66,132.45 L622.30,132.45 L622.93,132.44 L623.56,132.43 L624.19,132.43 L624.83,132.42 L625.46,132.41 L626.09,132.41 L626.73,132.40 L627.36,132.39 L627.99,132.39 L628.62,132.38 L629.26,132.37 L629.89,132.37 L630.52,132.36 L631.15,132.35 L631.79,132.35 L632.42,132.34 L633.05,132.34 L633.69,132.33 L634.32,132.33 L634.95,132.32 L635.58,132.31 L636.22,132.31 L636.85,132.30 L637.48,132.30 L638.11,132.29 L638.75,132.29 L639.38,132.28 L640.01,132.28 L640.64,132.27 L641.28,132.27 L641.91,132.26 L642.54,132.26 L643.18,132.25 L643.81,132.25 L644.44,132.24 L645.07,132.24 L645.71,132.24 L646.34,132.23 L646.97,132.23 L647.60,132.22 L648.24,132.22 L648.87,132.21 L649.50,132.21 L650.14,132.21 L650.77,132.20 L651.40,132.20 L652.03,132.20 L652.67,132.19 L653.30,132.19 L653.93,132.18 L654.56,132.18 L655.20,132.18 L655.83,132.17 L656.46,132.17 L657.10,132.17 L657.73,132.16 L658.36,132.16 L658.99,132.16 L659.63,132.15 L660.26,132.15 L660.89,132.15 L661.52,132.14 L662.16,132.14 L662.79,132.14 L663.42,132.13 L664.05,132.13 L664.69,132.13 L665.32,132.13 L665.95,132.12 L666.59,132.12 L667.22,132.12 L667.85,132.11 L668.48,132.11 L669.12,132.11 L669.75,132.11 L670.38,132.10 L671.01,132.10 L671.65,132.10 L672.28,132.10 L672.91,132.09 L673.55,132.09 L674.18,132.09 L674.81,132.09 L675.44,132.08 L676.08,132.08 L676.71,132.08 L677.34,132.08 L677.97,132.08 L678.61,132.07 L679.24,132.07 L679.87,132.07 L680.50,132.07 L681.14,132.07 L681.77,132.06 L682.40,132.06 L683.04,132.06 L683.67,132.06 L684.30,132.06 L684.93,132.05 L685.57,132.05 L686.20,132.05 L686.83,132.05 L687.46,132.05 L688.10,132.05 L688.73,132.04" stroke="#000" stroke-width="2.9" stroke-linecap="square" stroke-linejoin="round"/>
<path d="M435.65,38.80 L436.28,41.97 L436.92,45.03 L437.55,48.01 L438.18,50.89 L438.81,53.68 L439.45,56.38 L440.08,58.99 L440.71,61.52 L441.34,63.98 L441.98,66.35 L442.61,68.64 L443.24,70.87 L443.88,73.02 L444.51,75.10 L445.14,77.11 L445.77,79.05 L446.41,80.93 L447.04,82.75 L447.67,84.51 L448.30,86.21 L448.94,87.85 L449.57,89.44 L450.20,90.98 L450.83,92.46 L451.47,93.89 L452.10,95.28 L452.73,96.61 L453.37,97.91 L454.00,99.15 L454.63,100.36 L455.26,101.52 L455.90,102.65 L456.53,103.73 L457.16,104.78 L457.79,105.79 L458.43,106.77 L459.06,107.71 L459.69,108.63 L460.33,109.50 L460.96,110.35 L461.59,111.17 L462.22,111.96 L462.86,112.73 L463.49,113.46 L464.12,114.17 L464.75,114.86 L465.39,115.52 L466.02,116.16 L466.65,116.78 L467.28,117.37 L467.92,117.95 L468.55,118.50 L469.18,119.04 L469.82,119.55 L470.45,120.05 L471.08,120.53 L471.71,121.00 L472.35,121.44 L472.98,121.88 L473.61,122.29 L474.24,122.70 L474.88,123.08 L475.51,123.46 L476.14,123.82 L476.78,124.17 L477.41,124.51 L478.04,124.83 L478.67,125.14 L479.31,125.45 L479.94,125.74 L480.57,126.02 L481.20,126.30 L481.84,126.56 L482.47,126.81 L483.10,127.06 L483.74,127.29 L484.37,127.52 L485.00,127.74 L485.63,127.96 L486.27,128.16 L486.90,128.36 L487.53,128.56 L488.16,128.74 L488.80,128.92 L489.43,129.10 L490.06,129.26 L490.69,129.43 L491.33,129.58 L491.96,129.73 L492.59,129.88 L493.23,130.02 L493.86,130.16 L494.49,130.29 L495.12,130.42 L495.76,130.54 L496.39,130.66 L497.02,130.78 L497.65,130.89 L498.29,131.00 L498.92,131.11 L499.55,131.21 L500.19,131.31 L500.82,131.40 L501.45,131.50 L502.08,131.59 L502.72,131.67 L503.35,131.76 L503.98,131.84 L504.61,131.92 L505.25,132.00 L505.88,132.07 L506.51,132.15 L507.15,132.22 L507.78,132.28 L508.41,132.35 L509.04,132.41 L509.68,132.48 L510.31,132.54 L510.94,132.60 L511.57,132.65 L512.21,132.71 L512.84,132.76 L513.47,132.82 L514.10,132.87 L514.74,132.92 L515.37,132.97 L516.00,133.01 L516.64,133.06 L517.27,133.10 L517.90,133.15 L518.53,133.19 L519.17,133.23 L519.80,133.27 L520.43,133.31 L521.06,133.35 L521.70,133.39 L522.33,133.42 L522.96,133.46 L523.60,133.49 L524.23,133.53 L524.86,133.56 L525.49,133.59 L526.13,133.62 L526.76,133.65 L527.39,133.68 L528.02,133.71 L528.66,133.74 L529.29,133.77 L529.92,133.80 L530.55,133.82 L531.19,133.85 L531.82,133.88 L532.45,133.90 L533.09,133.93 L533.72,133.95 L534.35,133.97 L534.98,134.00 L535.62,134.02 L536.25,134.04 L536.88,134.06 L537.51,134.08 L538.15,134.10 L538.78,134.12 L539.41,134.14 L540.05,134.16 L540.68,134.18 L541.31,134.20 L541.94,134.22 L542.58,134.24 L543.21,134.26 L543.84,134.27 L544.47,134.29 L545.11,134.31 L545.74,134.32 L546.37,134.34 L547.01,134.36 L547.64,134.37 L548.27,134.39 L548.90,134.40 L549.54,134.42 L550.17,134.43 L550.80,134.45 L551.43,134.46 L552.07,134.47 L552.70,134.49 L553.33,134.50 L553.96,134.51 L554.60,134.53 L555.23,134.54 L555.86,134.55 L556.50,134.56 L557.13,134.58 L557.76,134.59 L558.39,134.60 L559.03,134.61 L559.66,134.62 L560.29,134.63 L560.92,134.65 L561.56,134.66 L562.19,134.67 L562.82,134.68 L563.46,134.69 L564.09,134.70 L564.72,134.71 L565.35,134.72 L565.99,134.73 L566.62,134.74 L567.25,134.75 L567.88,134.76 L568.52,134.77 L569.15,134.77 L569.78,134.78 L570.42,134.79 L571.05,134.80 L571.68,134.81 L572.31,134.82 L572.95,134.83 L573.58,134.83 L574.21,134.84 L574.84,134.85 L575.48,134.86 L576.11,134.86 L576.74,134.87 L577.37,134.88 L578.01,134.89 L578.64,134.89 L579.27,134.90 L579.91,134.91 L580.54,134.92 L581.17,134.92 L581.80,134.93 L582.44,134.94 L583.07,134.94 L583.70,134.95 L584.33,134.95 L584.97,134.96 L585.60,134.97 L586.23,134.97 L586.87,134.98 L587.50,134.99 L588.13,134.99 L588.76,135.00 L589.40,135.00 L590.03,135.01 L590.66,135.01 L591.29,135.02 L591.93,135.02 L592.56,135.03 L593.19,135.04 L593.83,135.04 L594.46,135.05 L595.09,135.05 L595.72,135.06 L596.36,135.06 L596.99,135.06 L597.62,135.07 L598.25,135.07 L598.89,135.08 L599.52,135.08 L600.15,135.09 L600.78,135.09 L601.42,135.10 L602.05,135.10 L602.68,135.11 L603.32,135.11 L603.95,135.11 L604.58,135.12 L605.21,135.12 L605.85,135.13 L606.48,135.13 L607.11,135.13 L607.74,135.14 L608.38,135.14 L609.01,135.14 L609.64,135.15 L610.28,135.15 L610.91,135.16 L611.54,135.16 L612.17,135.16 L612.81,135.17 L613.44,135.17 L614.07,135.17 L614.70,135.18 L615.34,135.18 L615.97,135.18 L616.60,135.19 L617.23,135.19 L617.87,135.19 L618.50,135.19 L619.13,135.20 L619.77,135.20 L620.40,135.20 L621.03,135.21 L621.66,135.21 L622.30,135.21 L622.93,135.21 L623.56,135.22 L624.19,135.22 L624.83,135.22 L625.46,135.23 L626.09,135.23 L626.73,135.23 L627.36,135.23 L627.99,135.24 L628.62,135.24 L629.26,135.24 L629.89,135.24 L630.52,135.24 L631.15,135.25 L631.79,135.25 L632.42,135.25 L633.05,135.25 L633.69,135.26 L634.32,135.26 L634.95,135.26 L635.58,135.26 L636.22,135.26 L636.85,135.27 L637.48,135.27 L638.11,135.27 L638.75,135.27 L639.38,135.27 L640.01,135.28 L640.64,135.28 L641.28,135.28 L641.91,135.28 L642.54,135.28 L643.18,135.28 L643.81,135.29 L644.44,135.29 L645.07,135.29 L645.71,135.29 L646.34,135.29 L646.97,135.29 L647.60,135.30 L648.24,135.30 L648.87,135.30 L649.50,135.30 L650.14,135.30 L650.77,135.30 L651.40,135.31 L652.03,135.31 L652.67,135.31 L653.30,135.31 L653.93,135.31 L654.56,135.31 L655.20,135.31 L655.83,135.32 L656.46,135.32 L657.10,135.32 L657.73,135.32 L658.36,135.32 L658.99,135.32 L659.63,135.32 L660.26,135.32 L660.89,135.33 L661.52,135.33 L662.16,135.33 L662.79,135.33 L663.42,135.33 L664.05,135.33 L664.69,135.33 L665.32,135.33 L665.95,135.33 L666.59,135.34 L667.22,135.34 L667.85,135.34 L668.48,135.34 L669.12,135.34 L669.75,135.34 L670.38,135.34 L671.01,135.34 L671.65,135.34 L672.28,135.34 L672.91,135.35 L673.55,135.35 L674.18,135.35 L674.81,135.35 L675.44,135.35 L676.08,135.35 L676.71,135.35 L677.34,135.35 L677.97,135.35 L678.61,135.35 L679.24,135.35 L679.87,135.35 L680.50,135.36 L681.14,135.36 L681.77,135.36 L682.40,135.36 L683.04,135.36 L683.67,135.36 L684.30,135.36 L684.93,135.36 L685.57,135.36 L686.20,135.36 L686.83,135.36 L687.46,135.36 L688.10,135.36 L688.73,135.36" stroke="#1f77b4" stroke-width="4.36" stroke-linejoin="round" stroke-dasharray="16.13,6.98"/>
<path d="M435.65,194.00 L436.28,192.47 L436.92,190.99 L437.55,189.55 L438.18,188.15 L438.81,186.79 L439.45,185.47 L440.08,184.19 L440.71,182.95 L441.34,181.74 L441.98,180.57 L442.61,179.43 L443.24,178.32 L443.88,177.25 L444.51,176.20 L445.14,175.19 L445.77,174.20 L446.41,173.24 L447.04,172.31 L447.67,171.40 L448.30,170.52 L448.94,169.66 L449.57,168.83 L450.20,168.01 L450.83,167.22 L451.47,166.46 L452.10,165.71 L452.73,164.98 L453.37,164.27 L454.00,163.58 L454.63,162.91 L455.26,162.26 L455.90,161.63 L456.53,161.02 L457.16,160.43 L457.79,159.85 L458.43,159.29 L459.06,158.74 L459.69,158.22 L460.33,157.70 L460.96,157.20 L461.59,156.71 L462.22,156.24 L462.86,155.78 L463.49,155.33 L464.12,154.90 L464.75,154.48 L465.39,154.06 L466.02,153.66 L466.65,153.27 L467.28,152.89 L467.92,152.52 L468.55,152.16 L469.18,151.81 L469.82,151.47 L470.45,151.13 L471.08,150.81 L471.71,150.49 L472.35,150.18 L472.98,149.88 L473.61,149.59 L474.24,149.31 L474.88,149.03 L475.51,148.76 L476.14,148.49 L476.78,148.24 L477.41,147.98 L478.04,147.74 L478.67,147.50 L479.31,147.27 L479.94,147.04 L480.57,146.82 L481.20,146.60 L481.84,146.39 L482.47,146.18 L483.10,145.98 L483.74,145.78 L484.37,145.59 L485.00,145.41 L485.63,145.22 L486.27,145.04 L486.90,144.87 L487.53,144.70 L488.16,144.53 L488.80,144.37 L489.43,144.21 L490.06,144.05 L490.69,143.90 L491.33,143.75 L491.96,143.61 L492.59,143.47 L493.23,143.33 L493.86,143.19 L494.49,143.06 L495.12,142.93 L495.76,142.80 L496.39,142.68 L497.02,142.55 L497.65,142.43 L498.29,142.32 L498.92,142.20 L499.55,142.09 L500.19,141.98 L500.82,141.87 L501.45,141.77 L502.08,141.67 L502.72,141.56 L503.35,141.47 L503.98,141.37 L504.61,141.27 L505.25,141.18 L505.88,141.09 L506.51,141.00 L507.15,140.91 L507.78,140.83 L508.41,140.74 L509.04,140.66 L509.68,140.58 L510.31,140.50 L510.94,140.42 L511.57,140.34 L512.21,140.27 L512.84,140.20 L513.47,140.12 L514.10,140.05 L514.74,139.98 L515.37,139.91 L516.00,139.85 L516.64,139.78 L517.27,139.72 L517.90,139.65 L518.53,139.59 L519.17,139.53 L519.80,139.47 L520.43,139.41 L521.06,139.35 L521.70,139.29 L522.33,139.24 L522.96,139.18 L523.60,139.13 L524.23,139.07 L524.86,139.02 L525.49,138.97 L526.13,138.92 L526.76,138.87 L527.39,138.82 L528.02,138.77 L528.66,138.72 L529.29,138.67 L529.92,138.63 L530.55,138.58 L531.19,138.54 L531.82,138.49 L532.45,138.45 L533.09,138.41 L533.72,138.37 L534.35,138.32 L534.98,138.28 L535.62,138.24 L536.25,138.20 L536.88,138.16 L537.51,138.13 L538.15,138.09 L538.78,138.05 L539.41,138.01 L540.05,137.98 L540.68,137.94 L541.31,137.91 L541.94,137.87 L542.58,137.84 L543.21,137.81 L543.84,137.77 L544.47,137.74 L545.11,137.71 L545.74,137.68 L546.37,137.64 L547.01,137.61 L547.64,137.58 L548.27,137.55 L548.90,137.52 L549.54,137.49 L550.17,137.47 L550.80,137.44 L551.43,137.41 L552.07,137.38 L552.70,137.35 L553.33,137.33 L553.96,137.30 L554.60,137.28 L555.23,137.25 L555.86,137.22 L556.50,137.20 L557.13,137.17 L557.76,137.15 L558.39,137.13 L559.03,137.10 L559.66,137.08 L560.29,137.05 L560.92,137.03 L561.56,137.01 L562.19,136.99 L562.82,136.97 L563.46,136.94 L564.09,136.92 L564.72,136.90 L565.35,136.88 L565.99,136.86 L566.62,136.84 L567.25,136.82 L567.88,136.80 L568.52,136.78 L569.15,136.76 L569.78,136.74 L570.42,136.72 L571.05,136.70 L571.68,136.69 L572.31,136.67 L572.95,136.65 L573.58,136.63 L574.21,136.61 L574.84,136.60 L575.48,136.58 L576.11,136.56 L576.74,136.55 L577.37,136.53 L578.01,136.51 L578.64,136.50 L579.27,136.48 L579.91,136.47 L580.54,136.45 L581.17,136.44 L581.80,136.42 L582.44,136.41 L583.07,136.39 L583.70,136.38 L584.33,136.36 L584.97,136.35 L585.60,136.33 L586.23,136.32 L586.87,136.31 L587.50,136.29 L588.13,136.28 L588.76,136.27 L589.40,136.25 L590.03,136.24 L590.66,136.23 L591.29,136.22 L591.93,136.20 L592.56,136.19 L593.19,136.18 L593.83,136.17 L594.46,136.16 L595.09,136.14 L595.72,136.13 L596.36,136.12 L596.99,136.11 L597.62,136.10 L598.25,136.09 L598.89,136.08 L599.52,136.07 L600.15,136.06 L600.78,136.05 L601.42,136.04 L602.05,136.03 L602.68,136.02 L603.32,136.01 L603.95,136.00 L604.58,135.99 L605.21,135.98 L605.85,135.97 L606.48,135.96 L607.11,135.95 L607.74,135.94 L608.38,135.93 L609.01,135.92 L609.64,135.91 L610.28,135.91 L610.91,135.90 L611.54,135.89 L612.17,135.88 L612.81,135.87 L613.44,135.87 L614.07,135.86 L614.70,135.85 L615.34,135.84 L615.97,135.83 L616.60,135.83 L617.23,135.82 L617.87,135.81 L618.50,135.80 L619.13,135.80 L619.77,135.79 L620.40,135.78 L621.03,135.78 L621.66,135.77 L622.30,135.76 L622.93,135.76 L623.56,135.75 L624.19,135.74 L624.83,135.74 L625.46,135.73 L626.09,135.72 L626.73,135.72 L627.36,135.71 L627.99,135.71 L628.62,135.70 L629.26,135.69 L629.89,135.69 L630.52,135.68 L631.15,135.68 L631.79,135.67 L632.42,135.67 L633.05,135.66 L633.69,135.66 L634.32,135.65 L634.95,135.64 L635.58,135.64 L636.22,135.63 L636.85,135.63 L637.48,135.62 L638.11,135.62 L638.75,135.61 L639.38,135.61 L640.01,135.61 L640.64,135.60 L641.28,135.60 L641.91,135.59 L642.54,135.59 L643.18,135.58 L643.81,135.58 L644.44,135.57 L645.07,135.57 L645.71,135.57 L646.34,135.56 L646.97,135.56 L647.60,135.55 L648.24,135.55 L648.87,135.55 L649.50,135.54 L650.14,135.54 L650.77,135.53 L651.40,135.53 L652.03,135.53 L652.67,135.52 L653.30,135.52 L653.93,135.52 L654.56,135.51 L655.20,135.51 L655.83,135.51 L656.46,135.50 L657.10,135.50 L657.73,135.50 L658.36,135.49 L658.99,135.49 L659.63,135.49 L660.26,135.48 L660.89,135.48 L661.52,135.48 L662.16,135.47 L662.79,135.47 L663.42,135.47 L664.05,135.47 L664.69,135.46 L665.32,135.46 L665.95,135.46 L666.59,135.45 L667.22,135.45 L667.85,135.45 L668.48,135.45 L669.12,135.44 L669.75,135.44 L670.38,135.44 L671.01,135.44 L671.65,135.43 L672.28,135.43 L672.91,135.43 L673.55,135.43 L674.18,135.42 L674.81,135.42 L675.44,135.42 L676.08,135.42 L676.71,135.42 L677.34,135.41 L677.97,135.41 L678.61,135.41 L679.24,135.41 L679.87,135.41 L680.50,135.40 L681.14,135.40 L681.77,135.40 L682.40,135.40 L683.04,135.40 L683.67,135.39 L684.30,135.39 L684.93,135.39 L685.57,135.39 L686.20,135.39 L686.83,135.38 L687.46,135.38 L688.10,135.38 L688.73,135.38" stroke="#ff7f0e" stroke-width="4.36" stroke-linejoin="round" stroke-dasharray="16.13,6.98"/>
<path d="M435.65,131.92 L688.73,131.92" stroke="#000" stroke-width="3.49" stroke-dasharray="3.49,5.76"/>
<path d="M455.90,194.00 L455.90,38.80" stroke="#000" stroke-width="3.49" stroke-dasharray="3.49,5.76"/>
</g>
<rect x="423.0" y="31.25" width="278.4" height="170.2" fill="none" stroke="#1c1c1c" stroke-width="1.05"/>
<path d="M435.65,201.45 v3.3" stroke="#000" stroke-width="1.16"/>
<text x="436.25" y="223.70" text-anchor="middle">0</text>
<path d="M498.92,201.45 v3.3" stroke="#000" stroke-width="1.16"/>
<text x="499.52" y="223.70" text-anchor="middle">1</text>
<path d="M562.19,201.45 v3.3" stroke="#000" stroke-width="1.16"/>
<text x="562.79" y="223.70" text-anchor="middle">2</text>
<path d="M625.46,201.45 v3.3" stroke="#000" stroke-width="1.16"/>
<text x="626.06" y="223.70" text-anchor="middle">3</text>
<path d="M688.73,201.45 v3.3" stroke="#000" stroke-width="1.16"/>
<text x="689.33" y="223.70" text-anchor="middle">4</text>
<path d="M423.0,194.00 h-3.3" stroke="#000" stroke-width="1.16"/>
<text x="412.80" y="198.20" text-anchor="end">0</text>
<path d="M423.0,116.40 h-3.3" stroke="#000" stroke-width="1.16"/>
<text x="412.80" y="120.60" text-anchor="end">1</text>
<path d="M423.0,38.80 h-3.3" stroke="#000" stroke-width="1.16"/>
<text x="412.80" y="43.00" text-anchor="end">2</text>
<rect x="565.7" y="39.7" width="126.79999999999995" height="56.39999999999999" rx="2.9" ry="2.9" fill="#fff" fill-opacity="0.8" stroke="#ccc" stroke-opacity="0.8" stroke-width="1.16"/>
<path d="M572.5,53.9 H589.3 M596.0,53.9 H608.1" stroke="#1f77b4" stroke-width="4.36"/>
<text x="619.0" y="59.70" font-size="17.6"><tspan font-weight="bold">r1</tspan> (10%)</text>
<path d="M572.5,79.5 H589.3 M596.0,79.5 H608.1" stroke="#ff7f0e" stroke-width="4.36"/>
<text x="619.0" y="85.30" font-size="17.6"><tspan font-weight="bold">r2</tspan> (10%)</text>
<clipPath id="cpc"><rect x="76.07" y="300.2" width="278.43" height="170.10000000000002"/></clipPath>
<g clip-path="url(#cpc)" fill="none">
<path d="M88.50,463.10 L89.13,456.27 L89.77,449.71 L90.40,443.40 L91.03,437.35 L91.67,431.53 L92.30,425.95 L92.93,420.58 L93.57,415.44 L94.20,410.49 L94.83,405.75 L95.47,401.20 L96.10,396.83 L96.73,392.64 L97.36,388.62 L98.00,384.77 L98.63,381.07 L99.26,377.53 L99.90,374.13 L100.53,370.87 L101.16,367.75 L101.80,364.76 L102.43,361.90 L103.06,359.16 L103.70,356.53 L104.33,354.01 L104.96,351.61 L105.60,349.30 L106.23,347.10 L106.86,344.99 L107.50,342.98 L108.13,341.05 L108.76,339.21 L109.40,337.45 L110.03,335.78 L110.66,334.17 L111.30,332.64 L111.93,331.18 L112.56,329.79 L113.19,328.46 L113.83,327.20 L114.46,325.99 L115.09,324.85 L115.73,323.75 L116.36,322.72 L116.99,321.73 L117.63,320.79 L118.26,319.90 L118.89,319.05 L119.53,318.25 L120.16,317.49 L120.79,316.77 L121.43,316.09 L122.06,315.44 L122.69,314.83 L123.33,314.26 L123.96,313.72 L124.59,313.20 L125.23,312.72 L125.86,312.27 L126.49,311.85 L127.13,311.45 L127.76,311.07 L128.39,310.73 L129.02,310.40 L129.66,310.10 L130.29,309.82 L130.92,309.55 L131.56,309.31 L132.19,309.09 L132.82,308.89 L133.46,308.70 L134.09,308.53 L134.72,308.37 L135.36,308.23 L135.99,308.11 L136.62,308.00 L137.26,307.90 L137.89,307.81 L138.52,307.74 L139.16,307.67 L139.79,307.62 L140.42,307.58 L141.06,307.55 L141.69,307.52 L142.32,307.51 L142.96,307.51 L143.59,307.51 L144.22,307.52 L144.85,307.54 L145.49,307.56 L146.12,307.60 L146.75,307.64 L147.39,307.68 L148.02,307.73 L148.65,307.78 L149.29,307.84 L149.92,307.91 L150.55,307.98 L151.19,308.05 L151.82,308.13 L152.45,308.21 L153.09,308.30 L153.72,308.39 L154.35,308.48 L154.99,308.57 L155.62,308.67 L156.25,308.77 L156.89,308.87 L157.52,308.98 L158.15,309.09 L158.79,309.19 L159.42,309.31 L160.05,309.42 L160.68,309.53 L161.32,309.65 L161.95,309.76 L162.58,309.88 L163.22,310.00 L163.85,310.12 L164.48,310.24 L165.12,310.36 L165.75,310.48 L166.38,310.60 L167.02,310.72 L167.65,310.85 L168.28,310.97 L168.92,311.09 L169.55,311.22 L170.18,311.34 L170.82,311.46 L171.45,311.59 L172.08,311.71 L172.72,311.83 L173.35,311.96 L173.98,312.08 L174.62,312.20 L175.25,312.32 L175.88,312.45 L176.51,312.57 L177.15,312.69 L177.78,312.81 L178.41,312.93 L179.05,313.05 L179.68,313.17 L180.31,313.28 L180.95,313.40 L181.58,313.52 L182.21,313.63 L182.85,313.75 L183.48,313.86 L184.11,313.98 L184.75,314.09 L185.38,314.20 L186.01,314.31 L186.65,314.42 L187.28,314.53 L187.91,314.64 L188.55,314.75 L189.18,314.85 L189.81,314.96 L190.45,315.06 L191.08,315.17 L191.71,315.27 L192.34,315.37 L192.98,315.48 L193.61,315.58 L194.24,315.68 L194.88,315.77 L195.51,315.87 L196.14,315.97 L196.78,316.06 L197.41,316.16 L198.04,316.25 L198.68,316.35 L199.31,316.44 L199.94,316.53 L200.58,316.62 L201.21,316.71 L201.84,316.80 L202.48,316.88 L203.11,316.97 L203.74,317.06 L204.38,317.14 L205.01,317.22 L205.64,317.31 L206.28,317.39 L206.91,317.47 L207.54,317.55 L208.17,317.63 L208.81,317.71 L209.44,317.78 L210.07,317.86 L210.71,317.94 L211.34,318.01 L211.97,318.08 L212.61,318.16 L213.24,318.23 L213.87,318.30 L214.51,318.37 L215.14,318.44 L215.77,318.51 L216.41,318.58 L217.04,318.64 L217.67,318.71 L218.31,318.78 L218.94,318.84 L219.57,318.90 L220.21,318.97 L220.84,319.03 L221.47,319.09 L222.11,319.15 L222.74,319.21 L223.37,319.27 L224.00,319.33 L224.64,319.39 L225.27,319.45 L225.90,319.50 L226.54,319.56 L227.17,319.61 L227.80,319.67 L228.44,319.72 L229.07,319.77 L229.70,319.83 L230.34,319.88 L230.97,319.93 L231.60,319.98 L232.24,320.03 L232.87,320.08 L233.50,320.13 L234.14,320.18 L234.77,320.22 L235.40,320.27 L236.04,320.32 L236.67,320.36 L237.30,320.41 L237.94,320.45 L238.57,320.49 L239.20,320.54 L239.83,320.58 L240.47,320.62 L241.10,320.66 L241.73,320.70 L242.37,320.74 L243.00,320.78 L243.63,320.82 L244.27,320.86 L244.90,320.90 L245.53,320.94 L246.17,320.98 L246.80,321.01 L247.43,321.05 L248.07,321.09 L248.70,321.12 L249.33,321.16 L249.97,321.19 L250.60,321.22 L251.23,321.26 L251.87,321.29 L252.50,321.32 L253.13,321.36 L253.77,321.39 L254.40,321.42 L255.03,321.45 L255.66,321.48 L256.30,321.51 L256.93,321.54 L257.56,321.57 L258.20,321.60 L258.83,321.63 L259.46,321.66 L260.10,321.68 L260.73,321.71 L261.36,321.74 L262.00,321.77 L262.63,321.79 L263.26,321.82 L263.90,321.84 L264.53,321.87 L265.16,321.89 L265.80,321.92 L266.43,321.94 L267.06,321.97 L267.70,321.99 L268.33,322.01 L268.96,322.04 L269.60,322.06 L270.23,322.08 L270.86,322.11 L271.49,322.13 L272.13,322.15 L272.76,322.17 L273.39,322.19 L274.03,322.21 L274.66,322.23 L275.29,322.25 L275.93,322.27 L276.56,322.29 L277.19,322.31 L277.83,322.33 L278.46,322.35 L279.09,322.37 L279.73,322.39 L280.36,322.40 L280.99,322.42 L281.63,322.44 L282.26,322.46 L282.89,322.47 L283.53,322.49 L284.16,322.51 L284.79,322.52 L285.43,322.54 L286.06,322.56 L286.69,322.57 L287.32,322.59 L287.96,322.60 L288.59,322.62 L289.22,322.63 L289.86,322.65 L290.49,322.66 L291.12,322.68 L291.76,322.69 L292.39,322.70 L293.02,322.72 L293.66,322.73 L294.29,322.74 L294.92,322.76 L295.56,322.77 L296.19,322.78 L296.82,322.80 L297.46,322.81 L298.09,322.82 L298.72,322.83 L299.36,322.85 L299.99,322.86 L300.62,322.87 L301.26,322.88 L301.89,322.89 L302.52,322.90 L303.15,322.91 L303.79,322.92 L304.42,322.94 L305.05,322.95 L305.69,322.96 L306.32,322.97 L306.95,322.98 L307.59,322.99 L308.22,323.00 L308.85,323.01 L309.49,323.02 L310.12,323.03 L310.75,323.03 L311.39,323.04 L312.02,323.05 L312.65,323.06 L313.29,323.07 L313.92,323.08 L314.55,323.09 L315.19,323.10 L315.82,323.11 L316.45,323.11 L317.09,323.12 L317.72,323.13 L318.35,323.14 L318.98,323.15 L319.62,323.15 L320.25,323.16 L320.88,323.17 L321.52,323.18 L322.15,323.18 L322.78,323.19 L323.42,323.20 L324.05,323.20 L324.68,323.21 L325.32,323.22 L325.95,323.22 L326.58,323.23 L327.22,323.24 L327.85,323.24 L328.48,323.25 L329.12,323.26 L329.75,323.26 L330.38,323.27 L331.02,323.28 L331.65,323.28 L332.28,323.29 L332.92,323.29 L333.55,323.30 L334.18,323.30 L334.81,323.31 L335.45,323.32 L336.08,323.32 L336.71,323.33 L337.35,323.33 L337.98,323.34 L338.61,323.34 L339.25,323.35 L339.88,323.35 L340.51,323.36 L341.15,323.36 L341.78,323.37" stroke="#000" stroke-width="2.9" stroke-linecap="square" stroke-linejoin="round"/>
<path d="M88.50,463.10 L89.13,463.07 L89.77,462.96 L90.40,462.80 L91.03,462.58 L91.67,462.30 L92.30,461.96 L92.93,461.58 L93.57,461.14 L94.20,460.66 L94.83,460.14 L95.47,459.58 L96.10,458.97 L96.73,458.33 L97.36,457.66 L98.00,456.95 L98.63,456.22 L99.26,455.45 L99.90,454.66 L100.53,453.84 L101.16,453.00 L101.80,452.14 L102.43,451.25 L103.06,450.35 L103.70,449.43 L104.33,448.49 L104.96,447.54 L105.60,446.57 L106.23,445.59 L106.86,444.60 L107.50,443.60 L108.13,442.59 L108.76,441.57 L109.40,440.54 L110.03,439.51 L110.66,438.47 L111.30,437.42 L111.93,436.37 L112.56,435.32 L113.19,434.26 L113.83,433.20 L114.46,432.14 L115.09,431.08 L115.73,430.02 L116.36,428.96 L116.99,427.89 L117.63,426.83 L118.26,425.77 L118.89,424.71 L119.53,423.66 L120.16,422.61 L120.79,421.56 L121.43,420.51 L122.06,419.47 L122.69,418.43 L123.33,417.40 L123.96,416.37 L124.59,415.34 L125.23,414.32 L125.86,413.31 L126.49,412.30 L127.13,411.30 L127.76,410.31 L128.39,409.32 L129.02,408.33 L129.66,407.36 L130.29,406.39 L130.92,405.43 L131.56,404.47 L132.19,403.52 L132.82,402.58 L133.46,401.65 L134.09,400.72 L134.72,399.81 L135.36,398.90 L135.99,397.99 L136.62,397.10 L137.26,396.21 L137.89,395.33 L138.52,394.46 L139.16,393.60 L139.79,392.74 L140.42,391.89 L141.06,391.06 L141.69,390.22 L142.32,389.40 L142.96,388.59 L143.59,387.78 L144.22,386.98 L144.85,386.19 L145.49,385.41 L146.12,384.63 L146.75,383.87 L147.39,383.11 L148.02,382.36 L148.65,381.62 L149.29,380.88 L149.92,380.15 L150.55,379.44 L151.19,378.73 L151.82,378.02 L152.45,377.33 L153.09,376.64 L153.72,375.96 L154.35,375.29 L154.99,374.62 L155.62,373.97 L156.25,373.32 L156.89,372.68 L157.52,372.04 L158.15,371.42 L158.79,370.80 L159.42,370.18 L160.05,369.58 L160.68,368.98 L161.32,368.39 L161.95,367.81 L162.58,367.23 L163.22,366.66 L163.85,366.10 L164.48,365.54 L165.12,364.99 L165.75,364.45 L166.38,363.91 L167.02,363.38 L167.65,362.86 L168.28,362.34 L168.92,361.83 L169.55,361.32 L170.18,360.83 L170.82,360.34 L171.45,359.85 L172.08,359.37 L172.72,358.90 L173.35,358.43 L173.98,357.97 L174.62,357.51 L175.25,357.06 L175.88,356.62 L176.51,356.18 L177.15,355.74 L177.78,355.32 L178.41,354.89 L179.05,354.48 L179.68,354.06 L180.31,353.66 L180.95,353.26 L181.58,352.86 L182.21,352.47 L182.85,352.08 L183.48,351.70 L184.11,351.33 L184.75,350.96 L185.38,350.59 L186.01,350.23 L186.65,349.87 L187.28,349.52 L187.91,349.17 L188.55,348.83 L189.18,348.49 L189.81,348.16 L190.45,347.83 L191.08,347.50 L191.71,347.18 L192.34,346.86 L192.98,346.55 L193.61,346.24 L194.24,345.94 L194.88,345.64 L195.51,345.34 L196.14,345.05 L196.78,344.76 L197.41,344.47 L198.04,344.19 L198.68,343.91 L199.31,343.64 L199.94,343.37 L200.58,343.10 L201.21,342.84 L201.84,342.58 L202.48,342.32 L203.11,342.07 L203.74,341.82 L204.38,341.58 L205.01,341.33 L205.64,341.09 L206.28,340.86 L206.91,340.62 L207.54,340.39 L208.17,340.17 L208.81,339.94 L209.44,339.72 L210.07,339.50 L210.71,339.29 L211.34,339.08 L211.97,338.87 L212.61,338.66 L213.24,338.46 L213.87,338.26 L214.51,338.06 L215.14,337.86 L215.77,337.67 L216.41,337.48 L217.04,337.29 L217.67,337.11 L218.31,336.92 L218.94,336.74 L219.57,336.57 L220.21,336.39 L220.84,336.22 L221.47,336.05 L222.11,335.88 L222.74,335.71 L223.37,335.55 L224.00,335.39 L224.64,335.23 L225.27,335.07 L225.90,334.92 L226.54,334.76 L227.17,334.61 L227.80,334.46 L228.44,334.32 L229.07,334.17 L229.70,334.03 L230.34,333.89 L230.97,333.75 L231.60,333.61 L232.24,333.47 L232.87,333.34 L233.50,333.21 L234.14,333.08 L234.77,332.95 L235.40,332.82 L236.04,332.70 L236.67,332.58 L237.30,332.46 L237.94,332.34 L238.57,332.22 L239.20,332.10 L239.83,331.99 L240.47,331.87 L241.10,331.76 L241.73,331.65 L242.37,331.54 L243.00,331.44 L243.63,331.33 L244.27,331.23 L244.90,331.12 L245.53,331.02 L246.17,330.92 L246.80,330.82 L247.43,330.72 L248.07,330.63 L248.70,330.53 L249.33,330.44 L249.97,330.35 L250.60,330.26 L251.23,330.17 L251.87,330.08 L252.50,329.99 L253.13,329.91 L253.77,329.82 L254.40,329.74 L255.03,329.65 L255.66,329.57 L256.30,329.49 L256.93,329.41 L257.56,329.33 L258.20,329.26 L258.83,329.18 L259.46,329.11 L260.10,329.03 L260.73,328.96 L261.36,328.89 L262.00,328.82 L262.63,328.75 L263.26,328.68 L263.90,328.61 L264.53,328.54 L265.16,328.48 L265.80,328.41 L266.43,328.35 L267.06,328.28 L267.70,328.22 L268.33,328.16 L268.96,328.10 L269.60,328.04 L270.23,327.98 L270.86,327.92 L271.49,327.86 L272.13,327.80 L272.76,327.75 L273.39,327.69 L274.03,327.64 L274.66,327.58 L275.29,327.53 L275.93,327.48 L276.56,327.43 L277.19,327.38 L277.83,327.33 L278.46,327.28 L279.09,327.23 L279.73,327.18 L280.36,327.13 L280.99,327.08 L281.63,327.04 L282.26,326.99 L282.89,326.95 L283.53,326.90 L284.16,326.86 L284.79,326.82 L285.43,326.77 L286.06,326.73 L286.69,326.69 L287.32,326.65 L287.96,326.61 L288.59,326.57 L289.22,326.53 L289.86,326.49 L290.49,326.45 L291.12,326.41 L291.76,326.38 L292.39,326.34 L293.02,326.30 L293.66,326.27 L294.29,326.23 L294.92,326.20 L295.56,326.17 L296.19,326.13 L296.82,326.10 L297.46,326.07 L298.09,326.03 L298.72,326.00 L299.36,325.97 L299.99,325.94 L300.62,325.91 L301.26,325.88 L301.89,325.85 L302.52,325.82 L303.15,325.79 L303.79,325.76 L304.42,325.73 L305.05,325.71 L305.69,325.68 L306.32,325.65 L306.95,325.62 L307.59,325.60 L308.22,325.57 L308.85,325.55 L309.49,325.52 L310.12,325.50 L310.75,325.47 L311.39,325.45 L312.02,325.42 L312.65,325.40 L313.29,325.38 L313.92,325.35 L314.55,325.33 L315.19,325.31 L315.82,325.29 L316.45,325.27 L317.09,325.24 L317.72,325.22 L318.35,325.20 L318.98,325.18 L319.62,325.16 L320.25,325.14 L320.88,325.12 L321.52,325.10 L322.15,325.08 L322.78,325.06 L323.42,325.05 L324.05,325.03 L324.68,325.01 L325.32,324.99 L325.95,324.97 L326.58,324.96 L327.22,324.94 L327.85,324.92 L328.48,324.91 L329.12,324.89 L329.75,324.87 L330.38,324.86 L331.02,324.84 L331.65,324.83 L332.28,324.81 L332.92,324.80 L333.55,324.78 L334.18,324.77 L334.81,324.75 L335.45,324.74 L336.08,324.72 L336.71,324.71 L337.35,324.70 L337.98,324.68 L338.61,324.67 L339.25,324.66 L339.88,324.64 L340.51,324.63 L341.15,324.62 L341.78,324.60" stroke="#000" stroke-width="2.9" stroke-linecap="square" stroke-linejoin="round"/>
<path d="M88.50,463.10 L89.13,456.27 L89.77,449.72 L90.40,443.43 L91.03,437.40 L91.67,431.61 L92.30,426.06 L92.93,420.74 L93.57,415.63 L94.20,410.74 L94.83,406.05 L95.47,401.55 L96.10,397.25 L96.73,393.12 L97.36,389.17 L98.00,385.38 L98.63,381.75 L99.26,378.28 L99.90,374.96 L100.53,371.78 L101.16,368.74 L101.80,365.83 L102.43,363.05 L103.06,360.39 L103.70,357.85 L104.33,355.42 L104.96,353.10 L105.60,350.88 L106.23,348.77 L106.86,346.75 L107.50,344.82 L108.13,342.99 L108.76,341.23 L109.40,339.57 L110.03,337.98 L110.66,336.46 L111.30,335.02 L111.93,333.65 L112.56,332.35 L113.19,331.11 L113.83,329.93 L114.46,328.81 L115.09,327.75 L115.73,326.75 L116.36,325.80 L116.99,324.89 L117.63,324.04 L118.26,323.23 L118.89,322.47 L119.53,321.75 L120.16,321.07 L120.79,320.43 L121.43,319.83 L122.06,319.27 L122.69,318.73 L123.33,318.24 L123.96,317.77 L124.59,317.33 L125.23,316.93 L125.86,316.55 L126.49,316.20 L127.13,315.87 L127.76,315.57 L128.39,315.29 L129.02,315.03 L129.66,314.80 L130.29,314.58 L130.92,314.39 L131.56,314.21 L132.19,314.05 L132.82,313.91 L133.46,313.79 L134.09,313.68 L134.72,313.58 L135.36,313.50 L135.99,313.43 L136.62,313.38 L137.26,313.34 L137.89,313.31 L138.52,313.29 L139.16,313.28 L139.79,313.28 L140.42,313.29 L141.06,313.30 L141.69,313.33 L142.32,313.37 L142.96,313.41 L143.59,313.46 L144.22,313.52 L144.85,313.58 L145.49,313.65 L146.12,313.73 L146.75,313.81 L147.39,313.90 L148.02,313.99 L148.65,314.08 L149.29,314.18 L149.92,314.29 L150.55,314.39 L151.19,314.51 L151.82,314.62 L152.45,314.74 L153.09,314.86 L153.72,314.98 L154.35,315.11 L154.99,315.24 L155.62,315.37 L156.25,315.50 L156.89,315.63 L157.52,315.77 L158.15,315.90 L158.79,316.04 L159.42,316.18 L160.05,316.32 L160.68,316.46 L161.32,316.60 L161.95,316.75 L162.58,316.89 L163.22,317.03 L163.85,317.18 L164.48,317.32 L165.12,317.47 L165.75,317.61 L166.38,317.76 L167.02,317.90 L167.65,318.04 L168.28,318.19 L168.92,318.33 L169.55,318.48 L170.18,318.62 L170.82,318.76 L171.45,318.91 L172.08,319.05 L172.72,319.19 L173.35,319.33 L173.98,319.47 L174.62,319.61 L175.25,319.75 L175.88,319.89 L176.51,320.02 L177.15,320.16 L177.78,320.29 L178.41,320.43 L179.05,320.56 L179.68,320.69 L180.31,320.83 L180.95,320.96 L181.58,321.09 L182.21,321.21 L182.85,321.34 L183.48,321.47 L184.11,321.59 L184.75,321.72 L185.38,321.84 L186.01,321.96 L186.65,322.09 L187.28,322.21 L187.91,322.32 L188.55,322.44 L189.18,322.56 L189.81,322.68 L190.45,322.79 L191.08,322.90 L191.71,323.02 L192.34,323.13 L192.98,323.24 L193.61,323.35 L194.24,323.45 L194.88,323.56 L195.51,323.66 L196.14,323.77 L196.78,323.87 L197.41,323.97 L198.04,324.08 L198.68,324.18 L199.31,324.27 L199.94,324.37 L200.58,324.47 L201.21,324.56 L201.84,324.66 L202.48,324.75 L203.11,324.84 L203.74,324.93 L204.38,325.02 L205.01,325.11 L205.64,325.20 L206.28,325.29 L206.91,325.37 L207.54,325.46 L208.17,325.54 L208.81,325.63 L209.44,325.71 L210.07,325.79 L210.71,325.87 L211.34,325.95 L211.97,326.03 L212.61,326.10 L213.24,326.18 L213.87,326.25 L214.51,326.33 L215.14,326.40 L215.77,326.47 L216.41,326.55 L217.04,326.62 L217.67,326.69 L218.31,326.75 L218.94,326.82 L219.57,326.89 L220.21,326.96 L220.84,327.02 L221.47,327.09 L222.11,327.15 L222.74,327.21 L223.37,327.27 L224.00,327.33 L224.64,327.40 L225.27,327.46 L225.90,327.51 L226.54,327.57 L227.17,327.63 L227.80,327.69 L228.44,327.74 L229.07,327.80 L229.70,327.85 L230.34,327.91 L230.97,327.96 L231.60,328.01 L232.24,328.06 L232.87,328.11 L233.50,328.16 L234.14,328.21 L234.77,328.26 L235.40,328.31 L236.04,328.36 L236.67,328.41 L237.30,328.45 L237.94,328.50 L238.57,328.54 L239.20,328.59 L239.83,328.63 L240.47,328.67 L241.10,328.72 L241.73,328.76 L242.37,328.80 L243.00,328.84 L243.63,328.88 L244.27,328.92 L244.90,328.96 L245.53,329.00 L246.17,329.04 L246.80,329.08 L247.43,329.12 L248.07,329.15 L248.70,329.19 L249.33,329.22 L249.97,329.26 L250.60,329.29 L251.23,329.33 L251.87,329.36 L252.50,329.40 L253.13,329.43 L253.77,329.46 L254.40,329.49 L255.03,329.53 L255.66,329.56 L256.30,329.59 L256.93,329.62 L257.56,329.65 L258.20,329.68 L258.83,329.71 L259.46,329.74 L260.10,329.77 L260.73,329.79 L261.36,329.82 L262.00,329.85 L262.63,329.88 L263.26,329.90 L263.90,329.93 L264.53,329.95 L265.16,329.98 L265.80,330.00 L266.43,330.03 L267.06,330.05 L267.70,330.08 L268.33,330.10 L268.96,330.13 L269.60,330.15 L270.23,330.17 L270.86,330.19 L271.49,330.22 L272.13,330.24 L272.76,330.26 L273.39,330.28 L274.03,330.30 L274.66,330.32 L275.29,330.34 L275.93,330.36 L276.56,330.38 L277.19,330.40 L277.83,330.42 L278.46,330.44 L279.09,330.46 L279.73,330.48 L280.36,330.50 L280.99,330.51 L281.63,330.53 L282.26,330.55 L282.89,330.57 L283.53,330.58 L284.16,330.60 L284.79,330.62 L285.43,330.63 L286.06,330.65 L286.69,330.67 L287.32,330.68 L287.96,330.70 L288.59,330.71 L289.22,330.73 L289.86,330.74 L290.49,330.76 L291.12,330.77 L291.76,330.79 L292.39,330.80 L293.02,330.81 L293.66,330.83 L294.29,330.84 L294.92,330.86 L295.56,330.87 L296.19,330.88 L296.82,330.89 L297.46,330.91 L298.09,330.92 L298.72,330.93 L299.36,330.94 L299.99,330.96 L300.62,330.97 L301.26,330.98 L301.89,330.99 L302.52,331.00 L303.15,331.01 L303.79,331.02 L304.42,331.03 L305.05,331.04 L305.69,331.06 L306.32,331.07 L306.95,331.08 L307.59,331.09 L308.22,331.10 L308.85,331.11 L309.49,331.12 L310.12,331.13 L310.75,331.13 L311.39,331.14 L312.02,331.15 L312.65,331.16 L313.29,331.17 L313.92,331.18 L314.55,331.19 L315.19,331.20 L315.82,331.21 L316.45,331.21 L317.09,331.22 L317.72,331.23 L318.35,331.24 L318.98,331.25 L319.62,331.25 L320.25,331.26 L320.88,331.27 L321.52,331.28 L322.15,331.28 L322.78,331.29 L323.42,331.30 L324.05,331.30 L324.68,331.31 L325.32,331.32 L325.95,331.33 L326.58,331.33 L327.22,331.34 L327.85,331.35 L328.48,331.35 L329.12,331.36 L329.75,331.36 L330.38,331.37 L331.02,331.38 L331.65,331.38 L332.28,331.39 L332.92,331.39 L333.55,331.40 L334.18,331.41 L334.81,331.41 L335.45,331.42 L336.08,331.42 L336.71,331.43 L337.35,331.43 L337.98,331.44 L338.61,331.44 L339.25,331.45 L339.88,331.45 L340.51,331.46 L341.15,331.46 L341.78,331.47" stroke="#1f77b4" stroke-width="4.36" stroke-linejoin="round" stroke-dasharray="16.13,6.98"/>
<path d="M88.50,463.10 L89.13,463.07 L89.77,462.96 L90.40,462.80 L91.03,462.58 L91.67,462.30 L92.30,461.96 L92.93,461.58 L93.57,461.14 L94.20,460.66 L94.83,460.14 L95.47,459.58 L96.10,458.97 L96.73,458.33 L97.36,457.66 L98.00,456.95 L98.63,456.22 L99.26,455.45 L99.90,454.66 L100.53,453.84 L101.16,453.00 L101.80,452.14 L102.43,451.25 L103.06,450.35 L103.70,449.43 L104.33,448.49 L104.96,447.54 L105.60,446.57 L106.23,445.59 L106.86,444.60 L107.50,443.60 L108.13,442.59 L108.76,441.57 L109.40,440.54 L110.03,439.51 L110.66,438.47 L111.30,437.42 L111.93,436.37 L112.56,435.32 L113.19,434.26 L113.83,433.20 L114.46,432.14 L115.09,431.08 L115.73,430.02 L116.36,428.96 L116.99,427.89 L117.63,426.83 L118.26,425.77 L118.89,424.71 L119.53,423.66 L120.16,422.61 L120.79,421.56 L121.43,420.51 L122.06,419.47 L122.69,418.43 L123.33,417.40 L123.96,416.37 L124.59,415.34 L125.23,414.32 L125.86,413.31 L126.49,412.30 L127.13,411.30 L127.76,410.31 L128.39,409.32 L129.02,408.33 L129.66,407.36 L130.29,406.39 L130.92,405.43 L131.56,404.47 L132.19,403.52 L132.82,402.58 L133.46,401.65 L134.09,400.72 L134.72,399.81 L135.36,398.90 L135.99,397.99 L136.62,397.10 L137.26,396.21 L137.89,395.33 L138.52,394.46 L139.16,393.60 L139.79,392.75 L140.42,391.91 L141.06,391.09 L141.69,390.28 L142.32,389.48 L142.96,388.69 L143.59,387.91 L144.22,387.14 L144.85,386.38 L145.49,385.63 L146.12,384.89 L146.75,384.16 L147.39,383.44 L148.02,382.72 L148.65,382.02 L149.29,381.32 L149.92,380.64 L150.55,379.96 L151.19,379.29 L151.82,378.63 L152.45,377.98 L153.09,377.34 L153.72,376.71 L154.35,376.08 L154.99,375.47 L155.62,374.86 L156.25,374.26 L156.89,373.66 L157.52,373.08 L158.15,372.50 L158.79,371.93 L159.42,371.37 L160.05,370.82 L160.68,370.27 L161.32,369.73 L161.95,369.20 L162.58,368.68 L163.22,368.16 L163.85,367.65 L164.48,367.15 L165.12,366.65 L165.75,366.16 L166.38,365.68 L167.02,365.20 L167.65,364.73 L168.28,364.27 L168.92,363.81 L169.55,363.36 L170.18,362.92 L170.82,362.48 L171.45,362.05 L172.08,361.63 L172.72,361.21 L173.35,360.79 L173.98,360.39 L174.62,359.98 L175.25,359.59 L175.88,359.20 L176.51,358.81 L177.15,358.43 L177.78,358.06 L178.41,357.69 L179.05,357.33 L179.68,356.97 L180.31,356.61 L180.95,356.27 L181.58,355.92 L182.21,355.58 L182.85,355.25 L183.48,354.92 L184.11,354.60 L184.75,354.28 L185.38,353.96 L186.01,353.65 L186.65,353.35 L187.28,353.04 L187.91,352.75 L188.55,352.45 L189.18,352.16 L189.81,351.88 L190.45,351.60 L191.08,351.32 L191.71,351.05 L192.34,350.78 L192.98,350.52 L193.61,350.25 L194.24,350.00 L194.88,349.74 L195.51,349.49 L196.14,349.25 L196.78,349.00 L197.41,348.76 L198.04,348.53 L198.68,348.29 L199.31,348.06 L199.94,347.84 L200.58,347.61 L201.21,347.39 L201.84,347.18 L202.48,346.96 L203.11,346.75 L203.74,346.55 L204.38,346.34 L205.01,346.14 L205.64,345.94 L206.28,345.74 L206.91,345.55 L207.54,345.36 L208.17,345.17 L208.81,344.99 L209.44,344.80 L210.07,344.62 L210.71,344.45 L211.34,344.27 L211.97,344.10 L212.61,343.93 L213.24,343.76 L213.87,343.59 L214.51,343.43 L215.14,343.27 L215.77,343.11 L216.41,342.96 L217.04,342.80 L217.67,342.65 L218.31,342.50 L218.94,342.35 L219.57,342.21 L220.21,342.06 L220.84,341.92 L221.47,341.78 L222.11,341.64 L222.74,341.51 L223.37,341.37 L224.00,341.24 L224.64,341.11 L225.27,340.98 L225.90,340.85 L226.54,340.73 L227.17,340.61 L227.80,340.48 L228.44,340.36 L229.07,340.25 L229.70,340.13 L230.34,340.01 L230.97,339.90 L231.60,339.79 L232.24,339.68 L232.87,339.57 L233.50,339.46 L234.14,339.36 L234.77,339.25 L235.40,339.15 L236.04,339.05 L236.67,338.95 L237.30,338.85 L237.94,338.75 L238.57,338.65 L239.20,338.56 L239.83,338.46 L240.47,338.37 L241.10,338.28 L241.73,338.19 L242.37,338.10 L243.00,338.01 L243.63,337.93 L244.27,337.84 L244.90,337.76 L245.53,337.67 L246.17,337.59 L246.80,337.51 L247.43,337.43 L248.07,337.35 L248.70,337.28 L249.33,337.20 L249.97,337.12 L250.60,337.05 L251.23,336.97 L251.87,336.90 L252.50,336.83 L253.13,336.76 L253.77,336.69 L254.40,336.62 L255.03,336.55 L255.66,336.49 L256.30,336.42 L256.93,336.35 L257.56,336.29 L258.20,336.23 L258.83,336.16 L259.46,336.10 L260.10,336.04 L260.73,335.98 L261.36,335.92 L262.00,335.86 L262.63,335.80 L263.26,335.75 L263.90,335.69 L264.53,335.63 L265.16,335.58 L265.80,335.52 L266.43,335.47 L267.06,335.42 L267.70,335.37 L268.33,335.31 L268.96,335.26 L269.60,335.21 L270.23,335.16 L270.86,335.11 L271.49,335.07 L272.13,335.02 L272.76,334.97 L273.39,334.92 L274.03,334.88 L274.66,334.83 L275.29,334.79 L275.93,334.74 L276.56,334.70 L277.19,334.66 L277.83,334.62 L278.46,334.57 L279.09,334.53 L279.73,334.49 L280.36,334.45 L280.99,334.41 L281.63,334.37 L282.26,334.33 L282.89,334.29 L283.53,334.26 L284.16,334.22 L284.79,334.18 L285.43,334.15 L286.06,334.11 L286.69,334.08 L287.32,334.04 L287.96,334.01 L288.59,333.97 L289.22,333.94 L289.86,333.90 L290.49,333.87 L291.12,333.84 L291.76,333.81 L292.39,333.78 L293.02,333.74 L293.66,333.71 L294.29,333.68 L294.92,333.65 L295.56,333.62 L296.19,333.59 L296.82,333.57 L297.46,333.54 L298.09,333.51 L298.72,333.48 L299.36,333.45 L299.99,333.43 L300.62,333.40 L301.26,333.37 L301.89,333.35 L302.52,333.32 L303.15,333.30 L303.79,333.27 L304.42,333.25 L305.05,333.22 L305.69,333.20 L306.32,333.18 L306.95,333.15 L307.59,333.13 L308.22,333.11 L308.85,333.08 L309.49,333.06 L310.12,333.04 L310.75,333.02 L311.39,333.00 L312.02,332.97 L312.65,332.95 L313.29,332.93 L313.92,332.91 L314.55,332.89 L315.19,332.87 L315.82,332.85 L316.45,332.83 L317.09,332.81 L317.72,332.80 L318.35,332.78 L318.98,332.76 L319.62,332.74 L320.25,332.72 L320.88,332.71 L321.52,332.69 L322.15,332.67 L322.78,332.65 L323.42,332.64 L324.05,332.62 L324.68,332.60 L325.32,332.59 L325.95,332.57 L326.58,332.56 L327.22,332.54 L327.85,332.52 L328.48,332.51 L329.12,332.49 L329.75,332.48 L330.38,332.47 L331.02,332.45 L331.65,332.44 L332.28,332.42 L332.92,332.41 L333.55,332.40 L334.18,332.38 L334.81,332.37 L335.45,332.36 L336.08,332.34 L336.71,332.33 L337.35,332.32 L337.98,332.30 L338.61,332.29 L339.25,332.28 L339.88,332.27 L340.51,332.26 L341.15,332.24 L341.78,332.23" stroke="#ff7f0e" stroke-width="4.36" stroke-linejoin="round" stroke-dasharray="16.13,6.98"/>
<path d="M88.50,323.71 L341.78,323.71" stroke="#000" stroke-width="3.49" stroke-dasharray="3.49,5.76"/>
<path d="M113.83,463.10 L113.83,307.50" stroke="#000" stroke-width="3.49" stroke-dasharray="3.49,5.76"/>
</g>
<rect x="76.07" y="300.2" width="278.43" height="170.10000000000002" fill="none" stroke="#1c1c1c" stroke-width="1.05"/>
<path d="M88.50,470.3 v3.3" stroke="#000" stroke-width="1.16"/>
<text x="89.10" y="492.80" text-anchor="middle">0</text>
<path d="M151.82,470.3 v3.3" stroke="#000" stroke-width="1.16"/>
<text x="152.42" y="492.80" text-anchor="middle">1</text>
<path d="M215.14,470.3 v3.3" stroke="#000" stroke-width="1.16"/>
<text x="215.74" y="492.80" text-anchor="middle">2</text>
<path d="M278.46,470.3 v3.3" stroke="#000" stroke-width="1.16"/>
<text x="279.06" y="492.80" text-anchor="middle">3</text>
<path d="M341.78,470.3 v3.3" stroke="#000" stroke-width="1.16"/>
<text x="342.38" y="492.80" text-anchor="middle">4</text>
<path d="M76.07,463.10 h-3.3" stroke="#000" stroke-width="1.16"/>
<text x="67.87" y="468.40" text-anchor="end">0</text>
<path d="M76.07,419.54 h-3.3" stroke="#000" stroke-width="1.16"/>
<text x="67.87" y="424.84" text-anchor="end">0.25</text>
<path d="M76.07,375.98 h-3.3" stroke="#000" stroke-width="1.16"/>
<text x="67.87" y="381.28" text-anchor="end">0.50</text>
<path d="M76.07,332.42 h-3.3" stroke="#000" stroke-width="1.16"/>
<text x="67.87" y="337.72" text-anchor="end">0.75</text>
<rect x="220.7" y="405.5" width="124.80000000000001" height="56.19999999999999" rx="2.9" ry="2.9" fill="#fff" fill-opacity="0.8" stroke="#ccc" stroke-opacity="0.8" stroke-width="1.16"/>
<path d="M227.5,419.9 H243.7 M251.0,419.9 H262.7" stroke="#1f77b4" stroke-width="4.36"/>
<text x="273.0" y="425.70" font-size="17.6"><tspan font-weight="bold">r1</tspan> (10%)</text>
<path d="M227.5,445.0 H243.7 M251.0,445.0 H262.7" stroke="#ff7f0e" stroke-width="4.36"/>
<text x="273.0" y="450.80" font-size="17.6"><tspan font-weight="bold">r2</tspan> (10%)</text>
<clipPath id="cpd"><rect x="436.75" y="300.26" width="263.71000000000004" height="170.19"/></clipPath>
<g clip-path="url(#cpd)" fill="none">
<path d="M448.74,307.95 L449.34,314.76 L449.94,321.30 L450.54,327.59 L451.14,333.62 L451.74,339.42 L452.34,344.98 L452.94,350.33 L453.53,355.46 L454.13,360.38 L454.73,365.11 L455.33,369.65 L455.93,374.00 L456.53,378.18 L457.13,382.18 L457.73,386.03 L458.33,389.71 L458.93,393.24 L459.53,396.63 L460.13,399.87 L460.73,402.99 L461.33,405.97 L461.92,408.82 L462.52,411.55 L463.12,414.17 L463.72,416.68 L464.32,419.08 L464.92,421.37 L465.52,423.57 L466.12,425.67 L466.72,427.68 L467.32,429.60 L467.92,431.43 L468.52,433.18 L469.12,434.86 L469.72,436.46 L470.31,437.98 L470.91,439.44 L471.51,440.82 L472.11,442.15 L472.71,443.41 L473.31,444.61 L473.91,445.75 L474.51,446.84 L475.11,447.87 L475.71,448.86 L476.31,449.79 L476.91,450.68 L477.51,451.53 L478.11,452.33 L478.70,453.08 L479.30,453.80 L479.90,454.48 L480.50,455.12 L481.10,455.73 L481.70,456.30 L482.30,456.85 L482.90,457.36 L483.50,457.84 L484.10,458.29 L484.70,458.71 L485.30,459.11 L485.90,459.48 L486.50,459.83 L487.10,460.15 L487.69,460.45 L488.29,460.73 L488.89,460.99 L489.49,461.23 L490.09,461.46 L490.69,461.66 L491.29,461.85 L491.89,462.02 L492.49,462.17 L493.09,462.31 L493.69,462.44 L494.29,462.55 L494.89,462.65 L495.49,462.73 L496.08,462.81 L496.68,462.87 L497.28,462.92 L497.88,462.96 L498.48,462.99 L499.08,463.02 L499.68,463.03 L500.28,463.03 L500.88,463.03 L501.48,463.02 L502.08,463.00 L502.68,462.98 L503.28,462.94 L503.88,462.91 L504.47,462.86 L505.07,462.81 L505.67,462.76 L506.27,462.70 L506.87,462.63 L507.47,462.56 L508.07,462.49 L508.67,462.41 L509.27,462.33 L509.87,462.24 L510.47,462.16 L511.07,462.06 L511.67,461.97 L512.27,461.87 L512.87,461.77 L513.46,461.67 L514.06,461.57 L514.66,461.46 L515.26,461.35 L515.86,461.24 L516.46,461.13 L517.06,461.02 L517.66,460.90 L518.26,460.79 L518.86,460.67 L519.46,460.55 L520.06,460.43 L520.66,460.31 L521.26,460.19 L521.85,460.07 L522.45,459.95 L523.05,459.83 L523.65,459.70 L524.25,459.58 L524.85,459.46 L525.45,459.34 L526.05,459.21 L526.65,459.09 L527.25,458.97 L527.85,458.84 L528.45,458.72 L529.05,458.60 L529.65,458.48 L530.24,458.35 L530.84,458.23 L531.44,458.11 L532.04,457.99 L532.64,457.87 L533.24,457.75 L533.84,457.63 L534.44,457.51 L535.04,457.39 L535.64,457.28 L536.24,457.16 L536.84,457.04 L537.44,456.93 L538.04,456.81 L538.63,456.70 L539.23,456.59 L539.83,456.47 L540.43,456.36 L541.03,456.25 L541.63,456.14 L542.23,456.03 L542.83,455.92 L543.43,455.82 L544.03,455.71 L544.63,455.61 L545.23,455.50 L545.83,455.40 L546.43,455.29 L547.03,455.19 L547.62,455.09 L548.22,454.99 L548.82,454.89 L549.42,454.79 L550.02,454.70 L550.62,454.60 L551.22,454.50 L551.82,454.41 L552.42,454.32 L553.02,454.22 L553.62,454.13 L554.22,454.04 L554.82,453.95 L555.42,453.86 L556.01,453.78 L556.61,453.69 L557.21,453.60 L557.81,453.52 L558.41,453.43 L559.01,453.35 L559.61,453.27 L560.21,453.19 L560.81,453.10 L561.41,453.03 L562.01,452.95 L562.61,452.87 L563.21,452.79 L563.81,452.72 L564.40,452.64 L565.00,452.57 L565.60,452.49 L566.20,452.42 L566.80,452.35 L567.40,452.28 L568.00,452.21 L568.60,452.14 L569.20,452.07 L569.80,452.00 L570.40,451.93 L571.00,451.87 L571.60,451.80 L572.20,451.74 L572.80,451.67 L573.39,451.61 L573.99,451.55 L574.59,451.49 L575.19,451.43 L575.79,451.37 L576.39,451.31 L576.99,451.25 L577.59,451.19 L578.19,451.13 L578.79,451.08 L579.39,451.02 L579.99,450.97 L580.59,450.91 L581.19,450.86 L581.78,450.81 L582.38,450.75 L582.98,450.70 L583.58,450.65 L584.18,450.60 L584.78,450.55 L585.38,450.50 L585.98,450.45 L586.58,450.41 L587.18,450.36 L587.78,450.31 L588.38,450.27 L588.98,450.22 L589.58,450.18 L590.17,450.13 L590.77,450.09 L591.37,450.05 L591.97,450.00 L592.57,449.96 L593.17,449.92 L593.77,449.88 L594.37,449.84 L594.97,449.80 L595.57,449.76 L596.17,449.72 L596.77,449.68 L597.37,449.65 L597.97,449.61 L598.57,449.57 L599.16,449.54 L599.76,449.50 L600.36,449.46 L600.96,449.43 L601.56,449.39 L602.16,449.36 L602.76,449.33 L603.36,449.29 L603.96,449.26 L604.56,449.23 L605.16,449.20 L605.76,449.17 L606.36,449.14 L606.96,449.11 L607.55,449.07 L608.15,449.05 L608.75,449.02 L609.35,448.99 L609.95,448.96 L610.55,448.93 L611.15,448.90 L611.75,448.88 L612.35,448.85 L612.95,448.82 L613.55,448.80 L614.15,448.77 L614.75,448.74 L615.35,448.72 L615.94,448.69 L616.54,448.67 L617.14,448.64 L617.74,448.62 L618.34,448.60 L618.94,448.57 L619.54,448.55 L620.14,448.53 L620.74,448.51 L621.34,448.48 L621.94,448.46 L622.54,448.44 L623.14,448.42 L623.74,448.40 L624.33,448.38 L624.93,448.36 L625.53,448.34 L626.13,448.32 L626.73,448.30 L627.33,448.28 L627.93,448.26 L628.53,448.24 L629.13,448.22 L629.73,448.20 L630.33,448.19 L630.93,448.17 L631.53,448.15 L632.13,448.13 L632.73,448.12 L633.32,448.10 L633.92,448.08 L634.52,448.07 L635.12,448.05 L635.72,448.03 L636.32,448.02 L636.92,448.00 L637.52,447.99 L638.12,447.97 L638.72,447.96 L639.32,447.94 L639.92,447.93 L640.52,447.91 L641.12,447.90 L641.71,447.89 L642.31,447.87 L642.91,447.86 L643.51,447.85 L644.11,447.83 L644.71,447.82 L645.31,447.81 L645.91,447.79 L646.51,447.78 L647.11,447.77 L647.71,447.76 L648.31,447.75 L648.91,447.73 L649.51,447.72 L650.10,447.71 L650.70,447.70 L651.30,447.69 L651.90,447.68 L652.50,447.67 L653.10,447.66 L653.70,447.65 L654.30,447.64 L654.90,447.62 L655.50,447.61 L656.10,447.60 L656.70,447.59 L657.30,447.59 L657.90,447.58 L658.50,447.57 L659.09,447.56 L659.69,447.55 L660.29,447.54 L660.89,447.53 L661.49,447.52 L662.09,447.51 L662.69,447.50 L663.29,447.50 L663.89,447.49 L664.49,447.48 L665.09,447.47 L665.69,447.46 L666.29,447.45 L666.89,447.45 L667.48,447.44 L668.08,447.43 L668.68,447.42 L669.28,447.42 L669.88,447.41 L670.48,447.40 L671.08,447.40 L671.68,447.39 L672.28,447.38 L672.88,447.37 L673.48,447.37 L674.08,447.36 L674.68,447.35 L675.28,447.35 L675.87,447.34 L676.47,447.34 L677.07,447.33 L677.67,447.32 L678.27,447.32 L678.87,447.31 L679.47,447.31 L680.07,447.30 L680.67,447.29 L681.27,447.29 L681.87,447.28 L682.47,447.28 L683.07,447.27 L683.67,447.27 L684.26,447.26 L684.86,447.26 L685.46,447.25 L686.06,447.25 L686.66,447.24 L687.26,447.24 L687.86,447.23 L688.46,447.23" stroke="#000" stroke-width="2.9" stroke-linecap="square" stroke-linejoin="round"/>
<path d="M448.74,307.95 L449.34,307.98 L449.94,308.08 L450.54,308.25 L451.14,308.47 L451.74,308.75 L452.34,309.08 L452.94,309.47 L453.53,309.90 L454.13,310.38 L454.73,310.90 L455.33,311.46 L455.93,312.06 L456.53,312.70 L457.13,313.37 L457.73,314.08 L458.33,314.81 L458.93,315.57 L459.53,316.36 L460.13,317.18 L460.73,318.02 L461.33,318.88 L461.92,319.76 L462.52,320.66 L463.12,321.58 L463.72,322.51 L464.32,323.46 L464.92,324.42 L465.52,325.40 L466.12,326.39 L466.72,327.38 L467.32,328.39 L467.92,329.41 L468.52,330.43 L469.12,331.46 L469.72,332.50 L470.31,333.54 L470.91,334.59 L471.51,335.64 L472.11,336.69 L472.71,337.75 L473.31,338.81 L473.91,339.86 L474.51,340.92 L475.11,341.98 L475.71,343.04 L476.31,344.10 L476.91,345.16 L477.51,346.21 L478.11,347.26 L478.70,348.31 L479.30,349.36 L479.90,350.40 L480.50,351.44 L481.10,352.47 L481.70,353.50 L482.30,354.53 L482.90,355.55 L483.50,356.57 L484.10,357.58 L484.70,358.58 L485.30,359.58 L485.90,360.57 L486.50,361.56 L487.10,362.54 L487.69,363.51 L488.29,364.48 L488.89,365.43 L489.49,366.39 L490.09,367.33 L490.69,368.27 L491.29,369.20 L491.89,370.12 L492.49,371.04 L493.09,371.94 L493.69,372.84 L494.29,373.74 L494.89,374.62 L495.49,375.50 L496.08,376.37 L496.68,377.23 L497.28,378.08 L497.88,378.92 L498.48,379.76 L499.08,380.59 L499.68,381.41 L500.28,382.22 L500.88,383.02 L501.48,383.82 L502.08,384.61 L502.68,385.39 L503.28,386.16 L503.88,386.92 L504.47,387.68 L505.07,388.43 L505.67,389.17 L506.27,389.90 L506.87,390.62 L507.47,391.34 L508.07,392.05 L508.67,392.75 L509.27,393.44 L509.87,394.13 L510.47,394.80 L511.07,395.47 L511.67,396.14 L512.27,396.79 L512.87,397.44 L513.46,398.08 L514.06,398.71 L514.66,399.33 L515.26,399.95 L515.86,400.56 L516.46,401.17 L517.06,401.76 L517.66,402.35 L518.26,402.93 L518.86,403.51 L519.46,404.08 L520.06,404.64 L520.66,405.19 L521.26,405.74 L521.85,406.28 L522.45,406.82 L523.05,407.34 L523.65,407.87 L524.25,408.38 L524.85,408.89 L525.45,409.39 L526.05,409.89 L526.65,410.38 L527.25,410.86 L527.85,411.34 L528.45,411.81 L529.05,412.28 L529.65,412.74 L530.24,413.19 L530.84,413.64 L531.44,414.09 L532.04,414.52 L532.64,414.96 L533.24,415.38 L533.84,415.80 L534.44,416.22 L535.04,416.63 L535.64,417.03 L536.24,417.43 L536.84,417.83 L537.44,418.22 L538.04,418.60 L538.63,418.98 L539.23,419.36 L539.83,419.73 L540.43,420.09 L541.03,420.45 L541.63,420.81 L542.23,421.16 L542.83,421.51 L543.43,421.85 L544.03,422.18 L544.63,422.52 L545.23,422.85 L545.83,423.17 L546.43,423.49 L547.03,423.81 L547.62,424.12 L548.22,424.43 L548.82,424.73 L549.42,425.03 L550.02,425.33 L550.62,425.62 L551.22,425.91 L551.82,426.19 L552.42,426.47 L553.02,426.75 L553.62,427.02 L554.22,427.29 L554.82,427.55 L555.42,427.82 L556.01,428.08 L556.61,428.33 L557.21,428.58 L557.81,428.83 L558.41,429.08 L559.01,429.32 L559.61,429.56 L560.21,429.79 L560.81,430.02 L561.41,430.25 L562.01,430.48 L562.61,430.70 L563.21,430.92 L563.81,431.14 L564.40,431.36 L565.00,431.57 L565.60,431.78 L566.20,431.98 L566.80,432.18 L567.40,432.38 L568.00,432.58 L568.60,432.78 L569.20,432.97 L569.80,433.16 L570.40,433.35 L571.00,433.53 L571.60,433.71 L572.20,433.89 L572.80,434.07 L573.39,434.24 L573.99,434.42 L574.59,434.59 L575.19,434.75 L575.79,434.92 L576.39,435.08 L576.99,435.25 L577.59,435.40 L578.19,435.56 L578.79,435.72 L579.39,435.87 L579.99,436.02 L580.59,436.17 L581.19,436.31 L581.78,436.46 L582.38,436.60 L582.98,436.74 L583.58,436.88 L584.18,437.02 L584.78,437.15 L585.38,437.28 L585.98,437.42 L586.58,437.55 L587.18,437.67 L587.78,437.80 L588.38,437.92 L588.98,438.05 L589.58,438.17 L590.17,438.29 L590.77,438.40 L591.37,438.52 L591.97,438.63 L592.57,438.75 L593.17,438.86 L593.77,438.97 L594.37,439.08 L594.97,439.18 L595.57,439.29 L596.17,439.39 L596.77,439.50 L597.37,439.60 L597.97,439.70 L598.57,439.80 L599.16,439.89 L599.76,439.99 L600.36,440.08 L600.96,440.18 L601.56,440.27 L602.16,440.36 L602.76,440.45 L603.36,440.54 L603.96,440.62 L604.56,440.71 L605.16,440.79 L605.76,440.88 L606.36,440.96 L606.96,441.04 L607.55,441.12 L608.15,441.20 L608.75,441.28 L609.35,441.35 L609.95,441.43 L610.55,441.50 L611.15,441.58 L611.75,441.65 L612.35,441.72 L612.95,441.79 L613.55,441.86 L614.15,441.93 L614.75,442.00 L615.35,442.07 L615.94,442.13 L616.54,442.20 L617.14,442.26 L617.74,442.33 L618.34,442.39 L618.94,442.45 L619.54,442.51 L620.14,442.57 L620.74,442.63 L621.34,442.69 L621.94,442.75 L622.54,442.80 L623.14,442.86 L623.74,442.91 L624.33,442.97 L624.93,443.02 L625.53,443.08 L626.13,443.13 L626.73,443.18 L627.33,443.23 L627.93,443.28 L628.53,443.33 L629.13,443.38 L629.73,443.43 L630.33,443.47 L630.93,443.52 L631.53,443.57 L632.13,443.61 L632.73,443.66 L633.32,443.70 L633.92,443.75 L634.52,443.79 L635.12,443.83 L635.72,443.87 L636.32,443.91 L636.92,443.95 L637.52,444.00 L638.12,444.03 L638.72,444.07 L639.32,444.11 L639.92,444.15 L640.52,444.19 L641.12,444.23 L641.71,444.26 L642.31,444.30 L642.91,444.33 L643.51,444.37 L644.11,444.40 L644.71,444.44 L645.31,444.47 L645.91,444.50 L646.51,444.54 L647.11,444.57 L647.71,444.60 L648.31,444.63 L648.91,444.66 L649.51,444.69 L650.10,444.72 L650.70,444.75 L651.30,444.78 L651.90,444.81 L652.50,444.84 L653.10,444.87 L653.70,444.90 L654.30,444.92 L654.90,444.95 L655.50,444.98 L656.10,445.00 L656.70,445.03 L657.30,445.05 L657.90,445.08 L658.50,445.10 L659.09,445.13 L659.69,445.15 L660.29,445.18 L660.89,445.20 L661.49,445.22 L662.09,445.25 L662.69,445.27 L663.29,445.29 L663.89,445.31 L664.49,445.33 L665.09,445.35 L665.69,445.38 L666.29,445.40 L666.89,445.42 L667.48,445.44 L668.08,445.46 L668.68,445.48 L669.28,445.50 L669.88,445.52 L670.48,445.53 L671.08,445.55 L671.68,445.57 L672.28,445.59 L672.88,445.61 L673.48,445.62 L674.08,445.64 L674.68,445.66 L675.28,445.68 L675.87,445.69 L676.47,445.71 L677.07,445.72 L677.67,445.74 L678.27,445.76 L678.87,445.77 L679.47,445.79 L680.07,445.80 L680.67,445.82 L681.27,445.83 L681.87,445.85 L682.47,445.86 L683.07,445.87 L683.67,445.89 L684.26,445.90 L684.86,445.92 L685.46,445.93 L686.06,445.94 L686.66,445.95 L687.26,445.97 L687.86,445.98 L688.46,445.99" stroke="#000" stroke-width="2.9" stroke-linecap="square" stroke-linejoin="round"/>
<path d="M448.74,307.95 L449.34,314.76 L449.94,321.29 L450.54,327.56 L451.14,333.58 L451.74,339.36 L452.34,344.91 L452.94,350.22 L453.53,355.33 L454.13,360.22 L454.73,364.91 L455.33,369.41 L455.93,373.73 L456.53,377.86 L457.13,381.82 L457.73,385.62 L458.33,389.26 L458.93,392.74 L459.53,396.08 L460.13,399.27 L460.73,402.33 L461.33,405.26 L461.92,408.06 L462.52,410.73 L463.12,413.30 L463.72,415.75 L464.32,418.09 L464.92,420.32 L465.52,422.46 L466.12,424.50 L466.72,426.45 L467.32,428.31 L467.92,430.09 L468.52,431.78 L469.12,433.40 L469.72,434.93 L470.31,436.40 L470.91,437.80 L471.51,439.12 L472.11,440.39 L472.71,441.59 L473.31,442.73 L473.91,443.82 L474.51,444.85 L475.11,445.83 L475.71,446.76 L476.31,447.63 L476.91,448.47 L477.51,449.25 L478.11,450.00 L478.70,450.70 L479.30,451.37 L479.90,451.99 L480.50,452.58 L481.10,453.14 L481.70,453.66 L482.30,454.15 L482.90,454.61 L483.50,455.04 L484.10,455.44 L484.70,455.82 L485.30,456.17 L485.90,456.49 L486.50,456.79 L487.10,457.07 L487.69,457.33 L488.29,457.56 L488.89,457.78 L489.49,457.98 L490.09,458.16 L490.69,458.32 L491.29,458.46 L491.89,458.59 L492.49,458.71 L493.09,458.81 L493.69,458.90 L494.29,458.97 L494.89,459.03 L495.49,459.08 L496.08,459.12 L496.68,459.15 L497.28,459.16 L497.88,459.17 L498.48,459.17 L499.08,459.16 L499.68,459.14 L500.28,459.11 L500.88,459.08 L501.48,459.03 L502.08,458.99 L502.68,458.93 L503.28,458.87 L503.88,458.80 L504.47,458.73 L505.07,458.65 L505.67,458.57 L506.27,458.49 L506.87,458.40 L507.47,458.30 L508.07,458.20 L508.67,458.10 L509.27,457.99 L509.87,457.89 L510.47,457.77 L511.07,457.66 L511.67,457.54 L512.27,457.43 L512.87,457.30 L513.46,457.18 L514.06,457.06 L514.66,456.93 L515.26,456.80 L515.86,456.67 L516.46,456.54 L517.06,456.41 L517.66,456.28 L518.26,456.15 L518.86,456.01 L519.46,455.88 L520.06,455.74 L520.66,455.60 L521.26,455.47 L521.85,455.33 L522.45,455.20 L523.05,455.06 L523.65,454.92 L524.25,454.79 L524.85,454.65 L525.45,454.51 L526.05,454.38 L526.65,454.24 L527.25,454.10 L527.85,453.97 L528.45,453.83 L529.05,453.70 L529.65,453.57 L530.24,453.43 L530.84,453.30 L531.44,453.17 L532.04,453.04 L532.64,452.91 L533.24,452.78 L533.84,452.65 L534.44,452.52 L535.04,452.39 L535.64,452.26 L536.24,452.14 L536.84,452.01 L537.44,451.89 L538.04,451.77 L538.63,451.65 L539.23,451.52 L539.83,451.40 L540.43,451.28 L541.03,451.17 L541.63,451.05 L542.23,450.93 L542.83,450.82 L543.43,450.70 L544.03,450.59 L544.63,450.48 L545.23,450.37 L545.83,450.26 L546.43,450.15 L547.03,450.04 L547.62,449.93 L548.22,449.83 L548.82,449.72 L549.42,449.62 L550.02,449.52 L550.62,449.42 L551.22,449.32 L551.82,449.22 L552.42,449.12 L553.02,449.02 L553.62,448.93 L554.22,448.83 L554.82,448.74 L555.42,448.64 L556.01,448.55 L556.61,448.46 L557.21,448.37 L557.81,448.28 L558.41,448.19 L559.01,448.11 L559.61,448.02 L560.21,447.94 L560.81,447.85 L561.41,447.77 L562.01,447.69 L562.61,447.61 L563.21,447.53 L563.81,447.45 L564.40,447.37 L565.00,447.29 L565.60,447.21 L566.20,447.14 L566.80,447.06 L567.40,446.99 L568.00,446.92 L568.60,446.85 L569.20,446.78 L569.80,446.71 L570.40,446.64 L571.00,446.57 L571.60,446.50 L572.20,446.43 L572.80,446.37 L573.39,446.30 L573.99,446.24 L574.59,446.18 L575.19,446.11 L575.79,446.05 L576.39,445.99 L576.99,445.93 L577.59,445.87 L578.19,445.81 L578.79,445.75 L579.39,445.70 L579.99,445.64 L580.59,445.58 L581.19,445.53 L581.78,445.48 L582.38,445.42 L582.98,445.37 L583.58,445.32 L584.18,445.27 L584.78,445.21 L585.38,445.16 L585.98,445.11 L586.58,445.07 L587.18,445.02 L587.78,444.97 L588.38,444.92 L588.98,444.88 L589.58,444.83 L590.17,444.79 L590.77,444.74 L591.37,444.70 L591.97,444.65 L592.57,444.61 L593.17,444.57 L593.77,444.53 L594.37,444.49 L594.97,444.45 L595.57,444.41 L596.17,444.37 L596.77,444.33 L597.37,444.29 L597.97,444.25 L598.57,444.21 L599.16,444.18 L599.76,444.14 L600.36,444.10 L600.96,444.07 L601.56,444.03 L602.16,444.00 L602.76,443.96 L603.36,443.93 L603.96,443.90 L604.56,443.87 L605.16,443.83 L605.76,443.80 L606.36,443.77 L606.96,443.74 L607.55,443.71 L608.15,443.68 L608.75,443.65 L609.35,443.62 L609.95,443.59 L610.55,443.56 L611.15,443.53 L611.75,443.51 L612.35,443.48 L612.95,443.45 L613.55,443.42 L614.15,443.40 L614.75,443.37 L615.35,443.35 L615.94,443.32 L616.54,443.30 L617.14,443.27 L617.74,443.25 L618.34,443.22 L618.94,443.20 L619.54,443.18 L620.14,443.15 L620.74,443.13 L621.34,443.11 L621.94,443.09 L622.54,443.07 L623.14,443.04 L623.74,443.02 L624.33,443.00 L624.93,442.98 L625.53,442.96 L626.13,442.94 L626.73,442.92 L627.33,442.90 L627.93,442.88 L628.53,442.86 L629.13,442.84 L629.73,442.83 L630.33,442.81 L630.93,442.79 L631.53,442.77 L632.13,442.76 L632.73,442.74 L633.32,442.72 L633.92,442.70 L634.52,442.69 L635.12,442.67 L635.72,442.66 L636.32,442.64 L636.92,442.62 L637.52,442.61 L638.12,442.59 L638.72,442.58 L639.32,442.56 L639.92,442.55 L640.52,442.53 L641.12,442.52 L641.71,442.51 L642.31,442.49 L642.91,442.48 L643.51,442.47 L644.11,442.45 L644.71,442.44 L645.31,442.43 L645.91,442.41 L646.51,442.40 L647.11,442.39 L647.71,442.38 L648.31,442.36 L648.91,442.35 L649.51,442.34 L650.10,442.33 L650.70,442.32 L651.30,442.31 L651.90,442.30 L652.50,442.29 L653.10,442.27 L653.70,442.26 L654.30,442.25 L654.90,442.24 L655.50,442.23 L656.10,442.22 L656.70,442.21 L657.30,442.20 L657.90,442.19 L658.50,442.18 L659.09,442.17 L659.69,442.17 L660.29,442.16 L660.89,442.15 L661.49,442.14 L662.09,442.13 L662.69,442.12 L663.29,442.11 L663.89,442.10 L664.49,442.10 L665.09,442.09 L665.69,442.08 L666.29,442.07 L666.89,442.06 L667.48,442.06 L668.08,442.05 L668.68,442.04 L669.28,442.03 L669.88,442.03 L670.48,442.02 L671.08,442.01 L671.68,442.01 L672.28,442.00 L672.88,441.99 L673.48,441.98 L674.08,441.98 L674.68,441.97 L675.28,441.97 L675.87,441.96 L676.47,441.95 L677.07,441.95 L677.67,441.94 L678.27,441.93 L678.87,441.93 L679.47,441.92 L680.07,441.92 L680.67,441.91 L681.27,441.91 L681.87,441.90 L682.47,441.89 L683.07,441.89 L683.67,441.88 L684.26,441.88 L684.86,441.87 L685.46,441.87 L686.06,441.86 L686.66,441.86 L687.26,441.85 L687.86,441.85 L688.46,441.84" stroke="#1f77b4" stroke-width="4.36" stroke-linejoin="round" stroke-dasharray="16.13,6.98"/>
<path d="M448.74,307.95 L449.34,307.98 L449.94,308.08 L450.54,308.25 L451.14,308.47 L451.74,308.75 L452.34,309.08 L452.94,309.47 L453.53,309.90 L454.13,310.38 L454.73,310.90 L455.33,311.46 L455.93,312.06 L456.53,312.70 L457.13,313.37 L457.73,314.08 L458.33,314.81 L458.93,315.57 L459.53,316.36 L460.13,317.18 L460.73,318.02 L461.33,318.88 L461.92,319.76 L462.52,320.66 L463.12,321.58 L463.72,322.51 L464.32,323.46 L464.92,324.42 L465.52,325.40 L466.12,326.39 L466.72,327.38 L467.32,328.39 L467.92,329.41 L468.52,330.43 L469.12,331.46 L469.72,332.50 L470.31,333.54 L470.91,334.59 L471.51,335.64 L472.11,336.69 L472.71,337.75 L473.31,338.81 L473.91,339.86 L474.51,340.92 L475.11,341.98 L475.71,343.04 L476.31,344.10 L476.91,345.16 L477.51,346.21 L478.11,347.26 L478.70,348.31 L479.30,349.36 L479.90,350.40 L480.50,351.44 L481.10,352.47 L481.70,353.50 L482.30,354.53 L482.90,355.55 L483.50,356.57 L484.10,357.58 L484.70,358.58 L485.30,359.58 L485.90,360.57 L486.50,361.56 L487.10,362.54 L487.69,363.51 L488.29,364.48 L488.89,365.43 L489.49,366.39 L490.09,367.33 L490.69,368.27 L491.29,369.20 L491.89,370.12 L492.49,371.04 L493.09,371.94 L493.69,372.84 L494.29,373.74 L494.89,374.62 L495.49,375.50 L496.08,376.37 L496.68,377.23 L497.28,378.07 L497.88,378.90 L498.48,379.72 L499.08,380.52 L499.68,381.32 L500.28,382.11 L500.88,382.88 L501.48,383.64 L502.08,384.40 L502.68,385.14 L503.28,385.88 L503.88,386.61 L504.47,387.32 L505.07,388.03 L505.67,388.73 L506.27,389.42 L506.87,390.10 L507.47,390.77 L508.07,391.43 L508.67,392.09 L509.27,392.73 L509.87,393.37 L510.47,394.00 L511.07,394.62 L511.67,395.23 L512.27,395.84 L512.87,396.43 L513.46,397.02 L514.06,397.60 L514.66,398.18 L515.26,398.74 L515.86,399.30 L516.46,399.85 L517.06,400.40 L517.66,400.93 L518.26,401.46 L518.86,401.98 L519.46,402.50 L520.06,403.01 L520.66,403.51 L521.26,404.01 L521.85,404.50 L522.45,404.98 L523.05,405.45 L523.65,405.92 L524.25,406.39 L524.85,406.84 L525.45,407.29 L526.05,407.74 L526.65,408.18 L527.25,408.61 L527.85,409.04 L528.45,409.46 L529.05,409.88 L529.65,410.29 L530.24,410.69 L530.84,411.09 L531.44,411.49 L532.04,411.88 L532.64,412.26 L533.24,412.64 L533.84,413.01 L534.44,413.38 L535.04,413.74 L535.64,414.10 L536.24,414.46 L536.84,414.81 L537.44,415.15 L538.04,415.49 L538.63,415.83 L539.23,416.16 L539.83,416.49 L540.43,416.81 L541.03,417.13 L541.63,417.44 L542.23,417.75 L542.83,418.06 L543.43,418.36 L544.03,418.66 L544.63,418.95 L545.23,419.24 L545.83,419.53 L546.43,419.81 L547.03,420.09 L547.62,420.36 L548.22,420.63 L548.82,420.90 L549.42,421.17 L550.02,421.43 L550.62,421.68 L551.22,421.94 L551.82,422.19 L552.42,422.44 L553.02,422.68 L553.62,422.92 L554.22,423.16 L554.82,423.40 L555.42,423.63 L556.01,423.86 L556.61,424.08 L557.21,424.30 L557.81,424.52 L558.41,424.74 L559.01,424.96 L559.61,425.17 L560.21,425.38 L560.81,425.58 L561.41,425.79 L562.01,425.99 L562.61,426.18 L563.21,426.38 L563.81,426.57 L564.40,426.76 L565.00,426.95 L565.60,427.14 L566.20,427.32 L566.80,427.50 L567.40,427.68 L568.00,427.86 L568.60,428.03 L569.20,428.20 L569.80,428.37 L570.40,428.54 L571.00,428.71 L571.60,428.87 L572.20,429.03 L572.80,429.19 L573.39,429.35 L573.99,429.50 L574.59,429.65 L575.19,429.81 L575.79,429.95 L576.39,430.10 L576.99,430.25 L577.59,430.39 L578.19,430.53 L578.79,430.67 L579.39,430.81 L579.99,430.95 L580.59,431.08 L581.19,431.21 L581.78,431.34 L582.38,431.47 L582.98,431.60 L583.58,431.73 L584.18,431.85 L584.78,431.97 L585.38,432.10 L585.98,432.22 L586.58,432.33 L587.18,432.45 L587.78,432.57 L588.38,432.68 L588.98,432.79 L589.58,432.90 L590.17,433.01 L590.77,433.12 L591.37,433.23 L591.97,433.33 L592.57,433.44 L593.17,433.54 L593.77,433.64 L594.37,433.74 L594.97,433.84 L595.57,433.94 L596.17,434.03 L596.77,434.13 L597.37,434.22 L597.97,434.31 L598.57,434.41 L599.16,434.50 L599.76,434.59 L600.36,434.67 L600.96,434.76 L601.56,434.85 L602.16,434.93 L602.76,435.01 L603.36,435.10 L603.96,435.18 L604.56,435.26 L605.16,435.34 L605.76,435.42 L606.36,435.49 L606.96,435.57 L607.55,435.64 L608.15,435.72 L608.75,435.79 L609.35,435.86 L609.95,435.94 L610.55,436.01 L611.15,436.08 L611.75,436.14 L612.35,436.21 L612.95,436.28 L613.55,436.34 L614.15,436.41 L614.75,436.47 L615.35,436.54 L615.94,436.60 L616.54,436.66 L617.14,436.72 L617.74,436.78 L618.34,436.84 L618.94,436.90 L619.54,436.96 L620.14,437.02 L620.74,437.07 L621.34,437.13 L621.94,437.18 L622.54,437.24 L623.14,437.29 L623.74,437.35 L624.33,437.40 L624.93,437.45 L625.53,437.50 L626.13,437.55 L626.73,437.60 L627.33,437.65 L627.93,437.70 L628.53,437.74 L629.13,437.79 L629.73,437.84 L630.33,437.88 L630.93,437.93 L631.53,437.97 L632.13,438.02 L632.73,438.06 L633.32,438.10 L633.92,438.15 L634.52,438.19 L635.12,438.23 L635.72,438.27 L636.32,438.31 L636.92,438.35 L637.52,438.39 L638.12,438.43 L638.72,438.46 L639.32,438.50 L639.92,438.54 L640.52,438.57 L641.12,438.61 L641.71,438.65 L642.31,438.68 L642.91,438.72 L643.51,438.75 L644.11,438.78 L644.71,438.82 L645.31,438.85 L645.91,438.88 L646.51,438.91 L647.11,438.95 L647.71,438.98 L648.31,439.01 L648.91,439.04 L649.51,439.07 L650.10,439.10 L650.70,439.13 L651.30,439.15 L651.90,439.18 L652.50,439.21 L653.10,439.24 L653.70,439.27 L654.30,439.29 L654.90,439.32 L655.50,439.35 L656.10,439.37 L656.70,439.40 L657.30,439.42 L657.90,439.45 L658.50,439.47 L659.09,439.49 L659.69,439.52 L660.29,439.54 L660.89,439.56 L661.49,439.59 L662.09,439.61 L662.69,439.63 L663.29,439.65 L663.89,439.68 L664.49,439.70 L665.09,439.72 L665.69,439.74 L666.29,439.76 L666.89,439.78 L667.48,439.80 L668.08,439.82 L668.68,439.84 L669.28,439.86 L669.88,439.88 L670.48,439.90 L671.08,439.91 L671.68,439.93 L672.28,439.95 L672.88,439.97 L673.48,439.98 L674.08,440.00 L674.68,440.02 L675.28,440.04 L675.87,440.05 L676.47,440.07 L677.07,440.08 L677.67,440.10 L678.27,440.12 L678.87,440.13 L679.47,440.15 L680.07,440.16 L680.67,440.18 L681.27,440.19 L681.87,440.20 L682.47,440.22 L683.07,440.23 L683.67,440.25 L684.26,440.26 L684.86,440.27 L685.46,440.29 L686.06,440.30 L686.66,440.31 L687.26,440.33 L687.86,440.34 L688.46,440.35" stroke="#ff7f0e" stroke-width="4.36" stroke-linejoin="round" stroke-dasharray="16.13,6.98"/>
<path d="M448.74,446.89 L688.46,446.89" stroke="#000" stroke-width="3.49" stroke-dasharray="3.49,5.76"/>
<path d="M472.71,463.04 L472.71,307.95" stroke="#000" stroke-width="3.49" stroke-dasharray="3.49,5.76"/>
</g>
<rect x="436.75" y="300.26" width="263.71000000000004" height="170.19" fill="none" stroke="#1c1c1c" stroke-width="1.05"/>
<path d="M448.74,470.45 v3.3" stroke="#000" stroke-width="1.16"/>
<text x="449.34" y="493.20" text-anchor="middle">0</text>
<path d="M508.67,470.45 v3.3" stroke="#000" stroke-width="1.16"/>
<text x="509.27" y="493.20" text-anchor="middle">1</text>
<path d="M568.60,470.45 v3.3" stroke="#000" stroke-width="1.16"/>
<text x="569.20" y="493.20" text-anchor="middle">2</text>
<path d="M628.53,470.45 v3.3" stroke="#000" stroke-width="1.16"/>
<text x="629.13" y="493.20" text-anchor="middle">3</text>
<path d="M688.46,470.45 v3.3" stroke="#000" stroke-width="1.16"/>
<text x="689.06" y="493.20" text-anchor="middle">4</text>
<path d="M436.75,307.95 h-3.3" stroke="#000" stroke-width="1.16"/>
<text x="428.55" y="313.15" text-anchor="end">0</text>
<path d="M436.75,351.37 h-3.3" stroke="#000" stroke-width="1.16"/>
<text x="428.55" y="356.57" text-anchor="end">−0.25</text>
<path d="M436.75,394.78 h-3.3" stroke="#000" stroke-width="1.16"/>
<text x="428.55" y="399.98" text-anchor="end">−0.50</text>
<path d="M436.75,438.20 h-3.3" stroke="#000" stroke-width="1.16"/>
<text x="428.55" y="443.40" text-anchor="end">−0.75</text>
<rect x="567.1" y="308.7" width="125.39999999999998" height="56.400000000000034" rx="2.9" ry="2.9" fill="#fff" fill-opacity="0.8" stroke="#ccc" stroke-opacity="0.8" stroke-width="1.16"/>
<path d="M573.8,322.9 H589.9 M597.4,322.9 H609.2" stroke="#1f77b4" stroke-width="4.36"/>
<text x="619.3" y="328.70" font-size="17.6"><tspan font-weight="bold">r1</tspan> (10%)</text>
<path d="M573.8,348.7 H589.9 M597.4,348.7 H609.2" stroke="#ff7f0e" stroke-width="4.36"/>
<text x="619.3" y="354.50" font-size="17.6"><tspan font-weight="bold">r2</tspan> (10%)</text>
<text x="17.20" y="14.5" font-size="16" textLength="21.60" lengthAdjust="spacingAndGlyphs">(<tspan font-style="italic">a</tspan>)</text>
<text x="387.20" y="14.5" font-size="16" textLength="21.60" lengthAdjust="spacingAndGlyphs">(<tspan font-style="italic">b</tspan>)</text>
<text x="9.80" y="281.1" font-size="16" textLength="21.40" lengthAdjust="spacingAndGlyphs">(<tspan font-style="italic">c</tspan>)</text>
<text x="387.20" y="281.1" font-size="16" textLength="23.80" lengthAdjust="spacingAndGlyphs">(<tspan font-style="italic">d</tspan>)</text>
<text transform="translate(202.50,14.4) scale(1.28,1)" font-style="italic">λ</text><text x="213.00" y="20.50" font-size="12.7" font-style="italic">A</text>
<text transform="translate(551.70,14.4) scale(1.28,1)" font-style="italic">λ</text><text x="561.90" y="20.50" font-size="12.7" >1</text>
<text transform="translate(197.40,281.2) scale(1.28,1)" font-style="italic">λ</text><text x="207.10" y="287.30" font-size="12.7" >Act</text>
<text transform="translate(547.80,281.2) scale(1.28,1)" font-style="italic">λ</text><text x="557.60" y="287.30" font-size="12.7" >Inh</text>
<text x="214.9" y="512.7" text-anchor="middle" font-style="italic">t</text>
<text x="569.0" y="515.3" text-anchor="middle" font-style="italic">t</text>
<text transform="translate(31.0,126.2) rotate(-90) scale(1.25,1)" x="-1.0" y="0" text-anchor="middle" font-size="17.8" font-style="italic">f</text><text transform="translate(31.0,118.4) rotate(-90) scale(1.0,1)" x="-0.3" y="0" text-anchor="middle" font-size="17.8" font-style="italic">/</text><text transform="translate(31.0,111.4) rotate(-90) scale(1.0,1)" x="-0.2" y="0" text-anchor="middle" font-size="18.2" font-style="italic">λ</text><text transform="translate(18.3,122.7) rotate(-90)" x="-0.35" y="0" text-anchor="middle" font-size="10.3" font-weight="bold">~</text><text transform="translate(18.3,111.0) rotate(-90)" x="-0.35" y="0" text-anchor="middle" font-size="10.3" font-weight="bold">~</text>
<text transform="translate(20.9,393.2) rotate(-90) scale(1.25,1)" x="-1.0" y="0" text-anchor="middle" font-size="17.8" font-style="italic">f</text><text transform="translate(20.9,385.4) rotate(-90) scale(1.0,1)" x="-0.3" y="0" text-anchor="middle" font-size="17.8" font-style="italic">/</text><text transform="translate(20.9,378.4) rotate(-90) scale(1.0,1)" x="-0.2" y="0" text-anchor="middle" font-size="18.2" font-style="italic">λ</text><text transform="translate(8.2,389.7) rotate(-90)" x="-0.35" y="0" text-anchor="middle" font-size="10.3" font-weight="bold">~</text><text transform="translate(8.2,378.0) rotate(-90)" x="-0.35" y="0" text-anchor="middle" font-size="10.3" font-weight="bold">~</text>
</svg>
</body></html>
